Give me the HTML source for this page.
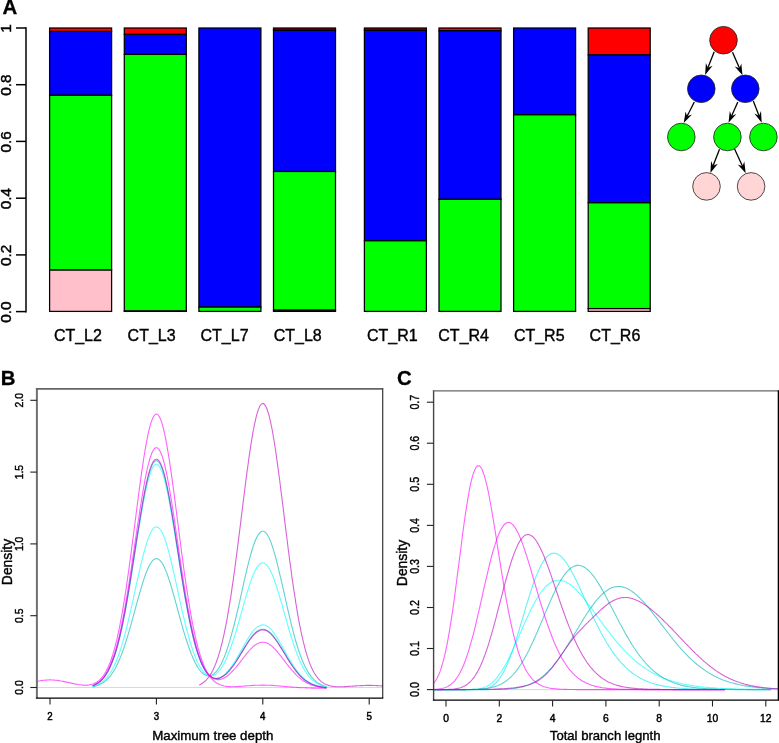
<!DOCTYPE html>
<html lang="en"><head><meta charset="utf-8"><title>Figure</title>
<style>
html,body{margin:0;padding:0;background:#fff;}
body{width:779px;height:743px;overflow:hidden;}
svg{display:block;}
svg text{font-family:"Liberation Sans", Arial, Helvetica, sans-serif;fill:#000;filter:grayscale(1);}
</style></head><body>
<svg width="779" height="743" viewBox="0 0 779 743">
<rect x="0" y="0" width="779" height="743" fill="#ffffff"/>
<!-- Panel A -->
<g id="panelA">
<text x="2.5" y="14.0" font-size="20.4" font-weight="bold" stroke="#000" stroke-width="0.3">A</text>
<g stroke="#000" stroke-width="1.5" fill="none">
<line x1="26.0" y1="27.2" x2="26.0" y2="312.4"/>
<line x1="16" y1="311.6" x2="26.0" y2="311.6"/>
<line x1="16" y1="254.9" x2="26.0" y2="254.9"/>
<line x1="16" y1="198.2" x2="26.0" y2="198.2"/>
<line x1="16" y1="141.4" x2="26.0" y2="141.4"/>
<line x1="16" y1="84.7" x2="26.0" y2="84.7"/>
<line x1="16" y1="28.0" x2="26.0" y2="28.0"/>
</g>
<text transform="translate(11.0 312.1) rotate(-90)" font-size="15.3" text-anchor="middle" stroke="#000" stroke-width="0.45">0.0</text>
<text transform="translate(11.0 255.4) rotate(-90)" font-size="15.3" text-anchor="middle" stroke="#000" stroke-width="0.45">0.2</text>
<text transform="translate(11.0 198.7) rotate(-90)" font-size="15.3" text-anchor="middle" stroke="#000" stroke-width="0.45">0.4</text>
<text transform="translate(11.0 141.9) rotate(-90)" font-size="15.3" text-anchor="middle" stroke="#000" stroke-width="0.45">0.6</text>
<text transform="translate(11.0 85.2) rotate(-90)" font-size="15.3" text-anchor="middle" stroke="#000" stroke-width="0.45">0.8</text>
<text transform="translate(11.0 28.5) rotate(-90)" font-size="15.3" text-anchor="middle" stroke="#000" stroke-width="0.45">1</text>
<g stroke="#000" stroke-width="1.25">
<rect x="49.6" y="28.0" width="62.0" height="3.5" fill="#ff0000"/>
<rect x="49.6" y="31.5" width="62.0" height="63.8" fill="#0000ff"/>
<rect x="49.6" y="95.3" width="62.0" height="174.8" fill="#00ff00"/>
<rect x="49.6" y="270.1" width="62.0" height="41.3" fill="#ffc0cb"/>
<rect x="124.3" y="28.0" width="62.0" height="6.4" fill="#ff0000"/>
<rect x="124.3" y="34.4" width="62.0" height="20.0" fill="#0000ff"/>
<rect x="124.3" y="54.4" width="62.0" height="256.6" fill="#00ff00"/>
<rect x="124.3" y="311.0" width="62.0" height="0.4" fill="#ffc0cb"/>
<rect x="198.9" y="28.0" width="62.0" height="279.1" fill="#0000ff"/>
<rect x="198.9" y="307.1" width="62.0" height="4.3" fill="#00ff00"/>
<rect x="273.5" y="28.0" width="62.0" height="2.3" fill="#a00000"/>
<rect x="273.5" y="30.3" width="62.0" height="141.2" fill="#0000ff"/>
<rect x="273.5" y="171.5" width="62.0" height="138.7" fill="#00ff00"/>
<rect x="273.5" y="310.2" width="62.0" height="1.2" fill="#ffc0cb"/>
<rect x="364.4" y="28.0" width="62.0" height="2.4" fill="#a00000"/>
<rect x="364.4" y="30.4" width="62.0" height="210.4" fill="#0000ff"/>
<rect x="364.4" y="240.8" width="62.0" height="70.6" fill="#00ff00"/>
<rect x="439.0" y="28.0" width="62.0" height="2.8" fill="#ff0000"/>
<rect x="439.0" y="30.8" width="62.0" height="168.6" fill="#0000ff"/>
<rect x="439.0" y="199.3" width="62.0" height="112.1" fill="#00ff00"/>
<rect x="513.6" y="28.0" width="62.0" height="86.8" fill="#0000ff"/>
<rect x="513.6" y="114.8" width="62.0" height="196.6" fill="#00ff00"/>
<rect x="588.2" y="28.0" width="62.0" height="26.9" fill="#ff0000"/>
<rect x="588.2" y="54.9" width="62.0" height="147.9" fill="#0000ff"/>
<rect x="588.2" y="202.8" width="62.0" height="105.8" fill="#00ff00"/>
<rect x="588.2" y="308.6" width="62.0" height="2.8" fill="#ffc0cb"/>
</g>
<text x="53.9" y="341.2" font-size="16" stroke="#000" stroke-width="0.4">CT_L2</text>
<text x="127.6" y="341.2" font-size="16" stroke="#000" stroke-width="0.4">CT_L3</text>
<text x="200.5" y="341.2" font-size="16" stroke="#000" stroke-width="0.4">CT_L7</text>
<text x="273.7" y="341.2" font-size="16" stroke="#000" stroke-width="0.4">CT_L8</text>
<text x="367.0" y="341.2" font-size="16" stroke="#000" stroke-width="0.4">CT_R1</text>
<text x="438.3" y="341.2" font-size="16" stroke="#000" stroke-width="0.4">CT_R4</text>
<text x="513.9" y="341.2" font-size="16" stroke="#000" stroke-width="0.4">CT_R5</text>
<text x="589.6" y="341.2" font-size="16" stroke="#000" stroke-width="0.4">CT_R6</text>
<g id="tree">
<line x1="714.2" y1="51.7" x2="707.9" y2="67.8" stroke="#000" stroke-width="1.3"/>
<polygon points="705.1,74.9 705.9,63.1 707.9,67.8 712.6,65.7" fill="#000"/>
<line x1="732.5" y1="52.2" x2="739.5" y2="68.3" stroke="#000" stroke-width="1.3"/>
<polygon points="742.5,75.3 734.7,66.4 739.5,68.3 741.3,63.5" fill="#000"/>
<line x1="694.3" y1="102.0" x2="687.1" y2="116.3" stroke="#000" stroke-width="1.3"/>
<polygon points="683.7,123.1 685.6,111.4 687.1,116.3 692.0,114.6" fill="#000"/>
<line x1="737.8" y1="102.0" x2="731.6" y2="115.9" stroke="#000" stroke-width="1.3"/>
<polygon points="728.5,122.8 729.8,111.0 731.6,115.9 736.4,114.0" fill="#000"/>
<line x1="753.2" y1="100.7" x2="759.0" y2="115.7" stroke="#000" stroke-width="1.3"/>
<polygon points="761.7,122.8 754.3,113.5 759.0,115.7 761.0,111.0" fill="#000"/>
<line x1="719.5" y1="149.3" x2="713.1" y2="165.8" stroke="#000" stroke-width="1.3"/>
<polygon points="710.4,172.9 711.1,161.1 713.1,165.8 717.8,163.7" fill="#000"/>
<line x1="734.6" y1="149.0" x2="742.5" y2="166.3" stroke="#000" stroke-width="1.3"/>
<polygon points="745.7,173.2 737.7,164.4 742.5,166.3 744.3,161.4" fill="#000"/>
<circle cx="723.5" cy="40.2" r="13.8" fill="#ff0000" stroke="#222" stroke-width="0.8"/>
<circle cx="701.3" cy="88.8" r="13.8" fill="#0000ff" stroke="#222" stroke-width="0.8"/>
<circle cx="745.3" cy="88.8" r="13.8" fill="#0000ff" stroke="#222" stroke-width="0.8"/>
<circle cx="681.3" cy="137.0" r="13.8" fill="#00ff00" stroke="#222" stroke-width="0.8"/>
<circle cx="727.4" cy="137.0" r="13.8" fill="#00ff00" stroke="#222" stroke-width="0.8"/>
<circle cx="763.4" cy="137.0" r="13.8" fill="#00ff00" stroke="#222" stroke-width="0.8"/>
<circle cx="706.5" cy="186.4" r="13.8" fill="#ffd5d5" stroke="#222" stroke-width="0.8"/>
<circle cx="751.1" cy="186.4" r="13.8" fill="#ffd5d5" stroke="#222" stroke-width="0.8"/>
</g>
</g>
<!-- Panel B -->
<g id="panelB">
<text x="0.8" y="385" font-size="20.4" font-weight="bold" stroke="#000" stroke-width="0.3">B</text>
<line x1="36.9" y1="687.5" x2="382.7" y2="687.5" stroke="#c8c8c8" stroke-width="0.7"/>
<g fill="none" stroke-width="1.1" stroke-opacity="0.62" stroke-linejoin="round">
<path d="M92.6,686.9 L93.5,686.7 L94.4,686.4 L95.3,686.2 L96.2,685.9 L97.1,685.6 L98.0,685.3 L98.9,684.9 L99.8,684.5 L100.7,684.1 L101.6,683.6 L102.5,683.1 L103.4,682.5 L104.3,681.8 L105.2,681.1 L106.1,680.3 L107.0,679.5 L107.9,678.6 L108.8,677.6 L109.7,676.6 L110.6,675.5 L111.5,674.2 L112.4,672.9 L113.3,671.5 L114.3,670.1 L115.2,668.5 L116.1,666.8 L117.0,665.0 L117.9,663.1 L118.8,661.1 L119.7,659.1 L120.6,656.9 L121.5,654.6 L122.4,652.2 L123.3,649.6 L124.2,647.0 L125.1,644.3 L126.0,641.6 L126.9,638.7 L127.8,635.7 L128.7,632.7 L129.6,629.6 L130.5,626.4 L131.4,623.2 L132.3,619.9 L133.2,616.6 L134.1,613.3 L135.0,609.9 L135.9,606.6 L136.8,603.3 L137.7,600.0 L138.7,596.7 L139.6,593.5 L140.5,590.3 L141.4,587.3 L142.3,584.3 L143.2,581.4 L144.1,578.6 L145.0,576.0 L145.9,573.5 L146.8,571.2 L147.7,569.0 L148.6,567.0 L149.5,565.3 L150.4,563.7 L151.3,562.3 L152.2,561.1 L153.1,560.1 L154.0,559.4 L154.9,558.9 L155.8,558.7 L156.7,558.6 L157.6,558.8 L158.5,559.3 L159.4,559.9 L160.3,560.8 L161.2,561.9 L162.2,563.3 L163.1,564.8 L164.0,566.5 L164.9,568.5 L165.8,570.6 L166.7,572.9 L167.6,575.3 L168.5,577.9 L169.4,580.6 L170.3,583.5 L171.2,586.4 L172.1,589.5 L173.0,592.6 L173.9,595.8 L174.8,599.0 L175.7,602.3 L176.6,605.7 L177.5,609.0 L178.4,612.3 L179.3,615.6 L180.2,618.9 L181.1,622.2 L182.0,625.4 L182.9,628.6 L183.8,631.7 L184.7,634.7 L185.6,637.7 L186.6,640.5 L187.5,643.3 L188.4,646.0 L189.3,648.5 L190.2,651.0 L191.1,653.4 L192.0,655.6 L192.9,657.8 L193.8,659.8 L194.7,661.7 L195.6,663.4 L196.5,665.1 L197.4,666.6 L198.3,668.0 L199.2,669.3 L200.1,670.5 L201.0,671.6 L201.9,672.5 L202.8,673.3 L203.7,674.0 L204.6,674.6 L205.5,675.1 L206.4,675.4 L207.3,675.6 L208.2,675.8 L209.1,675.7 L210.1,675.6 L211.0,675.4 L211.9,675.0 L212.8,674.5 L213.7,673.9 L214.6,673.2 L215.5,672.3 L216.4,671.3 L217.3,670.2 L218.2,668.9 L219.1,667.6 L220.0,666.0 L220.9,664.4 L221.8,662.6 L222.7,660.7 L223.6,658.6 L224.5,656.4 L225.4,654.1 L226.3,651.6 L227.2,649.0 L228.1,646.2 L229.0,643.3 L229.9,640.3 L230.8,637.2 L231.7,633.9 L232.6,630.5 L233.6,627.0 L234.5,623.5 L235.4,619.8 L236.3,616.0 L237.2,612.2 L238.1,608.3 L239.0,604.3 L239.9,600.3 L240.8,596.3 L241.7,592.3 L242.6,588.2 L243.5,584.2 L244.4,580.2 L245.3,576.3 L246.2,572.4 L247.1,568.6 L248.0,564.9 L248.9,561.3 L249.8,557.9 L250.7,554.6 L251.6,551.5 L252.5,548.5 L253.4,545.7 L254.3,543.2 L255.2,540.8 L256.1,538.7 L257.0,536.9 L258.0,535.3 L258.9,533.9 L259.8,532.8 L260.7,532.0 L261.6,531.5 L262.5,531.2 L263.4,531.3 L264.3,531.6 L265.2,532.2 L266.1,533.1 L267.0,534.2 L267.9,535.7 L268.8,537.3 L269.7,539.3 L270.6,541.4 L271.5,543.8 L272.4,546.5 L273.3,549.3 L274.2,552.3 L275.1,555.5 L276.0,558.8 L276.9,562.3 L277.8,565.9 L278.7,569.7 L279.6,573.5 L280.5,577.4 L281.5,581.3 L282.4,585.3 L283.3,589.4 L284.2,593.4 L285.1,597.4 L286.0,601.5 L286.9,605.5 L287.8,609.4 L288.7,613.3 L289.6,617.2 L290.5,620.9 L291.4,624.6 L292.3,628.2 L293.2,631.7 L294.1,635.1 L295.0,638.3 L295.9,641.5 L296.8,644.5 L297.7,647.4 L298.6,650.2 L299.5,652.9 L300.4,655.4 L301.3,657.8 L302.2,660.1 L303.1,662.3 L304.0,664.3 L304.9,666.2 L305.9,668.0 L306.8,669.7 L307.7,671.3 L308.6,672.7 L309.5,674.1 L310.4,675.4 L311.3,676.6 L312.2,677.7 L313.1,678.7 L314.0,679.6 L314.9,680.4 L315.8,681.2 L316.7,681.9 L317.6,682.6 L318.5,683.2 L319.4,683.7 L320.3,684.2 L321.2,684.7 L322.1,685.1 L323.0,685.4 L323.9,685.8 L324.8,686.1 L325.7,686.3 L326.6,686.6" stroke="#00b4b4"/>
<path d="M92.6,686.5 L93.5,686.3 L94.4,686.0 L95.3,685.7 L96.2,685.4 L97.1,685.0 L98.0,684.6 L98.9,684.1 L99.8,683.6 L100.7,683.1 L101.6,682.4 L102.5,681.8 L103.4,681.0 L104.3,680.2 L105.2,679.4 L106.1,678.4 L107.0,677.4 L107.9,676.2 L108.8,675.0 L109.7,673.7 L110.6,672.3 L111.5,670.8 L112.4,669.2 L113.3,667.5 L114.3,665.6 L115.2,663.6 L116.1,661.5 L117.0,659.3 L117.9,657.0 L118.8,654.5 L119.7,651.9 L120.6,649.2 L121.5,646.3 L122.4,643.3 L123.3,640.2 L124.2,637.0 L125.1,633.6 L126.0,630.1 L126.9,626.5 L127.8,622.9 L128.7,619.1 L129.6,615.2 L130.5,611.3 L131.4,607.3 L132.3,603.2 L133.2,599.1 L134.1,594.9 L135.0,590.8 L135.9,586.6 L136.8,582.5 L137.7,578.4 L138.7,574.3 L139.6,570.3 L140.5,566.4 L141.4,562.6 L142.3,558.8 L143.2,555.3 L144.1,551.8 L145.0,548.6 L145.9,545.5 L146.8,542.6 L147.7,539.9 L148.6,537.4 L149.5,535.2 L150.4,533.2 L151.3,531.5 L152.2,530.0 L153.1,528.8 L154.0,527.9 L154.9,527.3 L155.8,527.0 L156.7,526.9 L157.6,527.2 L158.5,527.7 L159.4,528.5 L160.3,529.7 L161.2,531.0 L162.2,532.7 L163.1,534.6 L164.0,536.8 L164.9,539.2 L165.8,541.8 L166.7,544.6 L167.6,547.7 L168.5,550.9 L169.4,554.3 L170.3,557.8 L171.2,561.5 L172.1,565.3 L173.0,569.2 L173.9,573.2 L174.8,577.2 L175.7,581.3 L176.6,585.5 L177.5,589.6 L178.4,593.8 L179.3,597.9 L180.2,602.0 L181.1,606.1 L182.0,610.1 L182.9,614.0 L183.8,617.9 L184.7,621.7 L185.6,625.4 L186.6,629.0 L187.5,632.4 L188.4,635.8 L189.3,639.0 L190.2,642.1 L191.1,645.1 L192.0,647.9 L192.9,650.6 L193.8,653.2 L194.7,655.6 L195.6,657.8 L196.5,660.0 L197.4,662.0 L198.3,663.8 L199.2,665.5 L200.1,667.1 L201.0,668.5 L201.9,669.8 L202.8,671.0 L203.7,672.0 L204.6,672.9 L205.5,673.7 L206.4,674.4 L207.3,674.9 L208.2,675.3 L209.1,675.6 L210.1,675.8 L211.0,675.8 L211.9,675.8 L212.8,675.6 L213.7,675.3 L214.6,674.8 L215.5,674.3 L216.4,673.7 L217.3,672.9 L218.2,672.0 L219.1,671.0 L220.0,669.9 L220.9,668.6 L221.8,667.3 L222.7,665.8 L223.6,664.2 L224.5,662.5 L225.4,660.7 L226.3,658.7 L227.2,656.7 L228.1,654.5 L229.0,652.2 L229.9,649.8 L230.8,647.4 L231.7,644.8 L232.6,642.1 L233.6,639.3 L234.5,636.5 L235.4,633.6 L236.3,630.6 L237.2,627.5 L238.1,624.4 L239.0,621.2 L239.9,618.0 L240.8,614.8 L241.7,611.6 L242.6,608.4 L243.5,605.2 L244.4,602.0 L245.3,598.9 L246.2,595.8 L247.1,592.8 L248.0,589.8 L248.9,587.0 L249.8,584.2 L250.7,581.6 L251.6,579.1 L252.5,576.7 L253.4,574.5 L254.3,572.5 L255.2,570.6 L256.1,568.9 L257.0,567.4 L258.0,566.1 L258.9,565.1 L259.8,564.2 L260.7,563.6 L261.6,563.1 L262.5,562.9 L263.4,563.0 L264.3,563.2 L265.2,563.7 L266.1,564.4 L267.0,565.3 L267.9,566.5 L268.8,567.8 L269.7,569.4 L270.6,571.1 L271.5,573.0 L272.4,575.1 L273.3,577.3 L274.2,579.7 L275.1,582.3 L276.0,585.0 L276.9,587.7 L277.8,590.6 L278.7,593.6 L279.6,596.6 L280.5,599.8 L281.5,602.9 L282.4,606.1 L283.3,609.3 L284.2,612.6 L285.1,615.8 L286.0,619.0 L286.9,622.2 L287.8,625.3 L288.7,628.5 L289.6,631.5 L290.5,634.5 L291.4,637.5 L292.3,640.3 L293.2,643.1 L294.1,645.8 L295.0,648.4 L295.9,650.9 L296.8,653.4 L297.7,655.7 L298.6,657.9 L299.5,660.0 L300.4,662.0 L301.3,664.0 L302.2,665.8 L303.1,667.5 L304.0,669.1 L304.9,670.7 L305.9,672.1 L306.8,673.5 L307.7,674.7 L308.6,675.9 L309.5,677.0 L310.4,678.0 L311.3,678.9 L312.2,679.8 L313.1,680.6 L314.0,681.4 L314.9,682.0 L315.8,682.7 L316.7,683.2 L317.6,683.7 L318.5,684.2 L319.4,684.7 L320.3,685.0 L321.2,685.4 L322.1,685.7 L323.0,686.0 L323.9,686.3 L324.8,686.5 L325.7,686.7 L326.6,686.9" stroke="#00ffff"/>
<path d="M92.6,685.8 L93.5,685.5 L94.4,685.1 L95.3,684.7 L96.2,684.2 L97.1,683.7 L98.0,683.1 L98.9,682.5 L99.8,681.8 L100.7,681.0 L101.6,680.2 L102.5,679.2 L103.4,678.2 L104.3,677.1 L105.2,675.9 L106.1,674.6 L107.0,673.1 L107.9,671.6 L108.8,669.9 L109.7,668.1 L110.6,666.1 L111.5,664.0 L112.4,661.8 L113.3,659.4 L114.3,656.8 L115.2,654.1 L116.1,651.1 L117.0,648.1 L117.9,644.8 L118.8,641.4 L119.7,637.8 L120.6,634.0 L121.5,630.0 L122.4,625.8 L123.3,621.5 L124.2,617.0 L125.1,612.4 L126.0,607.5 L126.9,602.6 L127.8,597.4 L128.7,592.2 L129.6,586.8 L130.5,581.3 L131.4,575.8 L132.3,570.1 L133.2,564.4 L134.1,558.7 L135.0,552.9 L135.9,547.1 L136.8,541.4 L137.7,535.7 L138.7,530.0 L139.6,524.5 L140.5,519.0 L141.4,513.7 L142.3,508.6 L143.2,503.6 L144.1,498.8 L145.0,494.3 L145.9,490.0 L146.8,486.0 L147.7,482.2 L148.6,478.8 L149.5,475.7 L150.4,473.0 L151.3,470.6 L152.2,468.5 L153.1,466.9 L154.0,465.6 L154.9,464.8 L155.8,464.3 L156.7,464.3 L157.6,464.6 L158.5,465.4 L159.4,466.5 L160.3,468.0 L161.2,470.0 L162.2,472.3 L163.1,474.9 L164.0,477.9 L164.9,481.3 L165.8,484.9 L166.7,488.9 L167.6,493.1 L168.5,497.6 L169.4,502.3 L170.3,507.2 L171.2,512.3 L172.1,517.6 L173.0,523.0 L173.9,528.5 L174.8,534.1 L175.7,539.8 L176.6,545.6 L177.5,551.3 L178.4,557.1 L179.3,562.8 L180.2,568.5 L181.1,574.2 L182.0,579.8 L182.9,585.3 L183.8,590.7 L184.7,595.9 L185.6,601.1 L186.6,606.1 L187.5,610.9 L188.4,615.6 L189.3,620.1 L190.2,624.5 L191.1,628.7 L192.0,632.7 L192.9,636.5 L193.8,640.1 L194.7,643.5 L195.6,646.8 L196.5,649.8 L197.4,652.7 L198.3,655.4 L199.2,657.9 L200.1,660.3 L201.0,662.5 L201.9,664.5 L202.8,666.4 L203.7,668.1 L204.6,669.6 L205.5,671.0 L206.4,672.3 L207.3,673.4 L208.2,674.4 L209.1,675.3 L210.1,676.0 L211.0,676.7 L211.9,677.2 L212.8,677.6 L213.7,677.9 L214.6,678.1 L215.5,678.2 L216.4,678.2 L217.3,678.1 L218.2,677.9 L219.1,677.7 L220.0,677.3 L220.9,676.9 L221.8,676.4 L222.7,675.8 L223.6,675.1 L224.5,674.4 L225.4,673.6 L226.3,672.7 L227.2,671.7 L228.1,670.7 L229.0,669.6 L229.9,668.5 L230.8,667.3 L231.7,666.0 L232.6,664.7 L233.6,663.3 L234.5,661.9 L235.4,660.5 L236.3,659.0 L237.2,657.4 L238.1,655.9 L239.0,654.3 L239.9,652.7 L240.8,651.1 L241.7,649.5 L242.6,647.9 L243.5,646.2 L244.4,644.6 L245.3,643.1 L246.2,641.5 L247.1,640.0 L248.0,638.5 L248.9,637.0 L249.8,635.6 L250.7,634.3 L251.6,633.1 L252.5,631.9 L253.4,630.7 L254.3,629.7 L255.2,628.8 L256.1,627.9 L257.0,627.2 L258.0,626.5 L258.9,626.0 L259.8,625.5 L260.7,625.2 L261.6,625.0 L262.5,624.9 L263.4,624.9 L264.3,625.0 L265.2,625.3 L266.1,625.6 L267.0,626.1 L267.9,626.7 L268.8,627.4 L269.7,628.1 L270.6,629.0 L271.5,630.0 L272.4,631.0 L273.3,632.2 L274.2,633.4 L275.1,634.7 L276.0,636.0 L276.9,637.4 L277.8,638.9 L278.7,640.4 L279.6,641.9 L280.5,643.5 L281.5,645.1 L282.4,646.7 L283.3,648.4 L284.2,650.0 L285.1,651.6 L286.0,653.2 L286.9,654.9 L287.8,656.5 L288.7,658.0 L289.6,659.6 L290.5,661.1 L291.4,662.6 L292.3,664.0 L293.2,665.4 L294.1,666.8 L295.0,668.1 L295.9,669.4 L296.8,670.6 L297.7,671.8 L298.6,672.9 L299.5,674.0 L300.4,675.0 L301.3,676.0 L302.2,676.9 L303.1,677.8 L304.0,678.6 L304.9,679.4 L305.9,680.1 L306.8,680.8 L307.7,681.4 L308.6,682.0 L309.5,682.6 L310.4,683.1 L311.3,683.6 L312.2,684.0 L313.1,684.4 L314.0,684.8 L314.9,685.1 L315.8,685.4 L316.7,685.7 L317.6,686.0 L318.5,686.2 L319.4,686.5 L320.3,686.7 L321.2,686.8 L322.1,687.0 L323.0,687.1 L323.9,687.3 L324.8,687.4 L325.7,687.5 L326.6,687.6" stroke="#00ffff"/>
<path d="M92.6,685.8 L93.5,685.4 L94.4,685.0 L95.3,684.6 L96.2,684.1 L97.1,683.6 L98.0,683.0 L98.9,682.4 L99.8,681.7 L100.7,680.9 L101.6,680.0 L102.5,679.1 L103.4,678.1 L104.3,676.9 L105.2,675.7 L106.1,674.3 L107.0,672.9 L107.9,671.3 L108.8,669.6 L109.7,667.7 L110.6,665.8 L111.5,663.6 L112.4,661.3 L113.3,658.9 L114.3,656.3 L115.2,653.5 L116.1,650.5 L117.0,647.4 L117.9,644.1 L118.8,640.6 L119.7,637.0 L120.6,633.1 L121.5,629.1 L122.4,624.8 L123.3,620.4 L124.2,615.9 L125.1,611.1 L126.0,606.2 L126.9,601.2 L127.8,596.0 L128.7,590.6 L129.6,585.2 L130.5,579.6 L131.4,574.0 L132.3,568.2 L133.2,562.4 L134.1,556.6 L135.0,550.7 L135.9,544.9 L136.8,539.0 L137.7,533.2 L138.7,527.5 L139.6,521.9 L140.5,516.3 L141.4,510.9 L142.3,505.7 L143.2,500.6 L144.1,495.8 L145.0,491.2 L145.9,486.8 L146.8,482.7 L147.7,478.9 L148.6,475.4 L149.5,472.3 L150.4,469.5 L151.3,467.1 L152.2,465.0 L153.1,463.3 L154.0,462.0 L154.9,461.2 L155.8,460.7 L156.7,460.6 L157.6,461.0 L158.5,461.8 L159.4,462.9 L160.3,464.5 L161.2,466.5 L162.2,468.8 L163.1,471.5 L164.0,474.5 L164.9,477.9 L165.8,481.6 L166.7,485.7 L167.6,489.9 L168.5,494.5 L169.4,499.3 L170.3,504.3 L171.2,509.5 L172.1,514.8 L173.0,520.3 L173.9,525.9 L174.8,531.7 L175.7,537.4 L176.6,543.3 L177.5,549.1 L178.4,555.0 L179.3,560.8 L180.2,566.6 L181.1,572.4 L182.0,578.0 L182.9,583.6 L183.8,589.1 L184.7,594.5 L185.6,599.7 L186.6,604.8 L187.5,609.7 L188.4,614.5 L189.3,619.1 L190.2,623.5 L191.1,627.7 L192.0,631.8 L192.9,635.7 L193.8,639.3 L194.7,642.8 L195.6,646.1 L196.5,649.3 L197.4,652.2 L198.3,654.9 L199.2,657.5 L200.1,659.9 L201.0,662.1 L201.9,664.2 L202.8,666.1 L203.7,667.8 L204.6,669.4 L205.5,670.9 L206.4,672.2 L207.3,673.3 L208.2,674.4 L209.1,675.3 L210.1,676.1 L211.0,676.7 L211.9,677.3 L212.8,677.8 L213.7,678.1 L214.6,678.3 L215.5,678.5 L216.4,678.5 L217.3,678.5 L218.2,678.4 L219.1,678.2 L220.0,677.9 L220.9,677.5 L221.8,677.0 L222.7,676.5 L223.6,675.9 L224.5,675.2 L225.4,674.5 L226.3,673.7 L227.2,672.8 L228.1,671.9 L229.0,670.9 L229.9,669.8 L230.8,668.7 L231.7,667.5 L232.6,666.3 L233.6,665.0 L234.5,663.7 L235.4,662.3 L236.3,661.0 L237.2,659.5 L238.1,658.1 L239.0,656.6 L239.9,655.1 L240.8,653.6 L241.7,652.1 L242.6,650.6 L243.5,649.1 L244.4,647.6 L245.3,646.1 L246.2,644.7 L247.1,643.3 L248.0,641.9 L248.9,640.5 L249.8,639.2 L250.7,638.0 L251.6,636.8 L252.5,635.7 L253.4,634.7 L254.3,633.7 L255.2,632.8 L256.1,632.0 L257.0,631.3 L258.0,630.7 L258.9,630.2 L259.8,629.8 L260.7,629.5 L261.6,629.3 L262.5,629.2 L263.4,629.2 L264.3,629.4 L265.2,629.6 L266.1,629.9 L267.0,630.4 L267.9,630.9 L268.8,631.5 L269.7,632.2 L270.6,633.1 L271.5,634.0 L272.4,634.9 L273.3,636.0 L274.2,637.1 L275.1,638.3 L276.0,639.6 L276.9,640.9 L277.8,642.3 L278.7,643.7 L279.6,645.1 L280.5,646.6 L281.5,648.1 L282.4,649.6 L283.3,651.1 L284.2,652.6 L285.1,654.1 L286.0,655.6 L286.9,657.1 L287.8,658.6 L288.7,660.1 L289.6,661.5 L290.5,663.0 L291.4,664.3 L292.3,665.7 L293.2,667.0 L294.1,668.3 L295.0,669.5 L295.9,670.7 L296.8,671.8 L297.7,672.9 L298.6,674.0 L299.5,675.0 L300.4,675.9 L301.3,676.8 L302.2,677.7 L303.1,678.5 L304.0,679.3 L304.9,680.0 L305.9,680.7 L306.8,681.3 L307.7,681.9 L308.6,682.5 L309.5,683.0 L310.4,683.4 L311.3,683.9 L312.2,684.3 L313.1,684.7 L314.0,685.0 L314.9,685.3 L315.8,685.6 L316.7,685.9 L317.6,686.2 L318.5,686.4 L319.4,686.6 L320.3,686.8 L321.2,686.9 L322.1,687.1 L323.0,687.2 L323.9,687.3 L324.8,687.5 L325.7,687.6 L326.6,687.6" stroke="#00b4b4"/>
<path d="M92.6,685.8 L93.5,685.4 L94.4,685.0 L95.3,684.6 L96.2,684.1 L97.1,683.6 L98.0,683.0 L98.9,682.4 L99.8,681.6 L100.7,680.9 L101.6,680.0 L102.5,679.0 L103.4,678.0 L104.3,676.8 L105.2,675.6 L106.1,674.3 L107.0,672.8 L107.9,671.2 L108.8,669.5 L109.7,667.6 L110.6,665.6 L111.5,663.5 L112.4,661.2 L113.3,658.7 L114.3,656.1 L115.2,653.3 L116.1,650.3 L117.0,647.2 L117.9,643.8 L118.8,640.3 L119.7,636.6 L120.6,632.7 L121.5,628.7 L122.4,624.4 L123.3,620.0 L124.2,615.4 L125.1,610.6 L126.0,605.7 L126.9,600.6 L127.8,595.4 L128.7,590.0 L129.6,584.5 L130.5,578.9 L131.4,573.2 L132.3,567.5 L133.2,561.6 L134.1,555.8 L135.0,549.9 L135.9,544.0 L136.8,538.1 L137.7,532.3 L138.7,526.5 L139.6,520.8 L140.5,515.2 L141.4,509.8 L142.3,504.5 L143.2,499.4 L144.1,494.6 L145.0,489.9 L145.9,485.5 L146.8,481.4 L147.7,477.6 L148.6,474.1 L149.5,470.9 L150.4,468.1 L151.3,465.7 L152.2,463.6 L153.1,461.9 L154.0,460.6 L154.9,459.7 L155.8,459.3 L156.7,459.2 L157.6,459.6 L158.5,460.3 L159.4,461.5 L160.3,463.1 L161.2,465.0 L162.2,467.4 L163.1,470.1 L164.0,473.2 L164.9,476.6 L165.8,480.3 L166.7,484.4 L167.6,488.7 L168.5,493.3 L169.4,498.1 L170.3,503.1 L171.2,508.3 L172.1,513.7 L173.0,519.3 L173.9,524.9 L174.8,530.7 L175.7,536.5 L176.6,542.3 L177.5,548.2 L178.4,554.1 L179.3,560.0 L180.2,565.9 L181.1,571.6 L182.0,577.4 L182.9,583.0 L183.8,588.5 L184.7,593.9 L185.6,599.1 L186.6,604.2 L187.5,609.2 L188.4,614.0 L189.3,618.6 L190.2,623.1 L191.1,627.3 L192.0,631.4 L192.9,635.3 L193.8,639.0 L194.7,642.5 L195.6,645.9 L196.5,649.0 L197.4,652.0 L198.3,654.7 L199.2,657.3 L200.1,659.7 L201.0,662.0 L201.9,664.1 L202.8,666.0 L203.7,667.7 L204.6,669.3 L205.5,670.8 L206.4,672.1 L207.3,673.3 L208.2,674.3 L209.1,675.3 L210.1,676.1 L211.0,676.7 L211.9,677.3 L212.8,677.8 L213.7,678.1 L214.6,678.4 L215.5,678.5 L216.4,678.6 L217.3,678.6 L218.2,678.4 L219.1,678.2 L220.0,677.9 L220.9,677.6 L221.8,677.1 L222.7,676.6 L223.6,676.0 L224.5,675.4 L225.4,674.6 L226.3,673.8 L227.2,673.0 L228.1,672.0 L229.0,671.1 L229.9,670.0 L230.8,668.9 L231.7,667.7 L232.6,666.5 L233.6,665.3 L234.5,664.0 L235.4,662.7 L236.3,661.3 L237.2,659.9 L238.1,658.4 L239.0,657.0 L239.9,655.5 L240.8,654.0 L241.7,652.6 L242.6,651.1 L243.5,649.6 L244.4,648.1 L245.3,646.6 L246.2,645.2 L247.1,643.8 L248.0,642.4 L248.9,641.1 L249.8,639.8 L250.7,638.6 L251.6,637.4 L252.5,636.3 L253.4,635.3 L254.3,634.4 L255.2,633.5 L256.1,632.7 L257.0,632.0 L258.0,631.4 L258.9,630.9 L259.8,630.5 L260.7,630.2 L261.6,630.0 L262.5,629.9 L263.4,630.0 L264.3,630.1 L265.2,630.3 L266.1,630.6 L267.0,631.1 L267.9,631.6 L268.8,632.2 L269.7,632.9 L270.6,633.7 L271.5,634.6 L272.4,635.6 L273.3,636.6 L274.2,637.8 L275.1,639.0 L276.0,640.2 L276.9,641.5 L277.8,642.8 L278.7,644.2 L279.6,645.6 L280.5,647.1 L281.5,648.6 L282.4,650.0 L283.3,651.5 L284.2,653.0 L285.1,654.5 L286.0,656.0 L286.9,657.5 L287.8,659.0 L288.7,660.4 L289.6,661.9 L290.5,663.3 L291.4,664.6 L292.3,666.0 L293.2,667.3 L294.1,668.5 L295.0,669.7 L295.9,670.9 L296.8,672.0 L297.7,673.1 L298.6,674.1 L299.5,675.1 L300.4,676.1 L301.3,677.0 L302.2,677.8 L303.1,678.6 L304.0,679.4 L304.9,680.1 L305.9,680.8 L306.8,681.4 L307.7,682.0 L308.6,682.5 L309.5,683.0 L310.4,683.5 L311.3,683.9 L312.2,684.3 L313.1,684.7 L314.0,685.1 L314.9,685.4 L315.8,685.7 L316.7,685.9 L317.6,686.2 L318.5,686.4 L319.4,686.6 L320.3,686.8 L321.2,687.0 L322.1,687.1 L323.0,687.2 L323.9,687.4 L324.8,687.5 L325.7,687.6 L326.6,687.7" stroke="#c000c0"/>
<path d="M92.6,685.6 L93.5,685.3 L94.4,684.9 L95.3,684.4 L96.2,683.9 L97.1,683.4 L98.0,682.7 L98.9,682.1 L99.8,681.3 L100.7,680.5 L101.6,679.6 L102.5,678.6 L103.4,677.5 L104.3,676.3 L105.2,675.0 L106.1,673.5 L107.0,672.0 L107.9,670.3 L108.8,668.5 L109.7,666.6 L110.6,664.5 L111.5,662.2 L112.4,659.8 L113.3,657.2 L114.3,654.5 L115.2,651.5 L116.1,648.4 L117.0,645.1 L117.9,641.6 L118.8,637.9 L119.7,634.0 L120.6,630.0 L121.5,625.7 L122.4,621.2 L123.3,616.6 L124.2,611.7 L125.1,606.7 L126.0,601.6 L126.9,596.2 L127.8,590.7 L128.7,585.1 L129.6,579.3 L130.5,573.4 L131.4,567.5 L132.3,561.4 L133.2,555.3 L134.1,549.1 L135.0,542.9 L135.9,536.7 L136.8,530.5 L137.7,524.4 L138.7,518.3 L139.6,512.4 L140.5,506.5 L141.4,500.8 L142.3,495.3 L143.2,489.9 L144.1,484.8 L145.0,479.9 L145.9,475.3 L146.8,471.0 L147.7,467.0 L148.6,463.3 L149.5,460.0 L150.4,457.0 L151.3,454.5 L152.2,452.3 L153.1,450.5 L154.0,449.2 L154.9,448.2 L155.8,447.7 L156.7,447.7 L157.6,448.1 L158.5,448.9 L159.4,450.1 L160.3,451.7 L161.2,453.8 L162.2,456.3 L163.1,459.1 L164.0,462.4 L164.9,465.9 L165.8,469.9 L166.7,474.1 L167.6,478.6 L168.5,483.5 L169.4,488.5 L170.3,493.8 L171.2,499.3 L172.1,504.9 L173.0,510.8 L173.9,516.7 L174.8,522.7 L175.7,528.8 L176.6,535.0 L177.5,541.2 L178.4,547.4 L179.3,553.6 L180.2,559.7 L181.1,565.8 L182.0,571.8 L182.9,577.7 L183.8,583.5 L184.7,589.1 L185.6,594.7 L186.6,600.0 L187.5,605.3 L188.4,610.3 L189.3,615.2 L190.2,619.8 L191.1,624.3 L192.0,628.6 L192.9,632.7 L193.8,636.6 L194.7,640.3 L195.6,643.8 L196.5,647.2 L197.4,650.3 L198.3,653.2 L199.2,655.9 L200.1,658.5 L201.0,660.9 L201.9,663.1 L202.8,665.1 L203.7,667.0 L204.6,668.8 L205.5,670.3 L206.4,671.8 L207.3,673.0 L208.2,674.2 L209.1,675.2 L210.1,676.1 L211.0,676.9 L211.9,677.6 L212.8,678.2 L213.7,678.7 L214.6,679.0 L215.5,679.3 L216.4,679.5 L217.3,679.6 L218.2,679.6 L219.1,679.6 L220.0,679.4 L220.9,679.2 L221.8,679.0 L222.7,678.6 L223.6,678.2 L224.5,677.7 L225.4,677.2 L226.3,676.6 L227.2,676.0 L228.1,675.3 L229.0,674.5 L229.9,673.7 L230.8,672.8 L231.7,671.9 L232.6,671.0 L233.6,670.0 L234.5,669.0 L235.4,668.0 L236.3,666.9 L237.2,665.8 L238.1,664.7 L239.0,663.5 L239.9,662.4 L240.8,661.2 L241.7,660.0 L242.6,658.9 L243.5,657.7 L244.4,656.5 L245.3,655.4 L246.2,654.2 L247.1,653.1 L248.0,652.1 L248.9,651.0 L249.8,650.0 L250.7,649.0 L251.6,648.1 L252.5,647.2 L253.4,646.4 L254.3,645.7 L255.2,645.0 L256.1,644.4 L257.0,643.8 L258.0,643.4 L258.9,643.0 L259.8,642.7 L260.7,642.4 L261.6,642.3 L262.5,642.2 L263.4,642.2 L264.3,642.3 L265.2,642.5 L266.1,642.7 L267.0,643.1 L267.9,643.5 L268.8,644.0 L269.7,644.6 L270.6,645.2 L271.5,645.9 L272.4,646.7 L273.3,647.5 L274.2,648.4 L275.1,649.3 L276.0,650.3 L276.9,651.3 L277.8,652.4 L278.7,653.5 L279.6,654.6 L280.5,655.7 L281.5,656.9 L282.4,658.1 L283.3,659.3 L284.2,660.4 L285.1,661.6 L286.0,662.8 L286.9,664.0 L287.8,665.1 L288.7,666.3 L289.6,667.4 L290.5,668.5 L291.4,669.6 L292.3,670.7 L293.2,671.7 L294.1,672.7 L295.0,673.6 L295.9,674.6 L296.8,675.4 L297.7,676.3 L298.6,677.1 L299.5,677.9 L300.4,678.6 L301.3,679.4 L302.2,680.0 L303.1,680.7 L304.0,681.3 L304.9,681.8 L305.9,682.3 L306.8,682.8 L307.7,683.3 L308.6,683.7 L309.5,684.1 L310.4,684.5 L311.3,684.9 L312.2,685.2 L313.1,685.5 L314.0,685.7 L314.9,686.0 L315.8,686.2 L316.7,686.4 L317.6,686.6 L318.5,686.8 L319.4,687.0 L320.3,687.1 L321.2,687.2 L322.1,687.4 L323.0,687.5 L323.9,687.6 L324.8,687.6 L325.7,687.7 L326.6,687.8" stroke="#ff00ff"/>
<path d="M199.0,685.1 L199.7,684.8 L200.4,684.4 L201.2,684.0 L201.9,683.5 L202.7,683.1 L203.4,682.5 L204.1,681.9 L204.9,681.3 L205.6,680.6 L206.4,679.9 L207.1,679.0 L207.8,678.2 L208.6,677.2 L209.3,676.2 L210.1,675.1 L210.8,673.9 L211.5,672.7 L212.3,671.3 L213.0,669.9 L213.7,668.3 L214.5,666.7 L215.2,664.9 L216.0,663.0 L216.7,661.0 L217.4,658.9 L218.2,656.7 L218.9,654.3 L219.7,651.8 L220.4,649.2 L221.1,646.4 L221.9,643.5 L222.6,640.4 L223.4,637.2 L224.1,633.8 L224.8,630.3 L225.6,626.6 L226.3,622.8 L227.1,618.8 L227.8,614.7 L228.5,610.4 L229.3,606.0 L230.0,601.4 L230.8,596.7 L231.5,591.8 L232.2,586.8 L233.0,581.7 L233.7,576.4 L234.5,571.0 L235.2,565.6 L235.9,560.0 L236.7,554.3 L237.4,548.5 L238.2,542.7 L238.9,536.8 L239.6,530.9 L240.4,524.9 L241.1,518.9 L241.8,512.9 L242.6,506.9 L243.3,501.0 L244.1,495.0 L244.8,489.1 L245.5,483.3 L246.3,477.6 L247.0,472.0 L247.8,466.5 L248.5,461.1 L249.2,455.9 L250.0,450.8 L250.7,445.9 L251.5,441.2 L252.2,436.8 L252.9,432.5 L253.7,428.5 L254.4,424.8 L255.2,421.3 L255.9,418.1 L256.6,415.2 L257.4,412.7 L258.1,410.4 L258.9,408.4 L259.6,406.8 L260.3,405.5 L261.1,404.5 L261.8,403.9 L262.6,403.6 L263.3,403.6 L264.0,404.0 L264.8,404.8 L265.5,405.9 L266.3,407.3 L267.0,409.0 L267.7,411.1 L268.5,413.5 L269.2,416.2 L269.9,419.2 L270.7,422.5 L271.4,426.0 L272.2,429.8 L272.9,433.9 L273.6,438.2 L274.4,442.8 L275.1,447.5 L275.9,452.5 L276.6,457.6 L277.3,462.9 L278.1,468.3 L278.8,473.8 L279.6,479.5 L280.3,485.3 L281.0,491.1 L281.8,497.0 L282.5,502.9 L283.3,508.9 L284.0,514.9 L284.7,520.9 L285.5,526.9 L286.2,532.9 L287.0,538.8 L287.7,544.7 L288.4,550.5 L289.2,556.2 L289.9,561.8 L290.7,567.4 L291.4,572.8 L292.1,578.2 L292.9,583.4 L293.6,588.5 L294.4,593.4 L295.1,598.2 L295.8,602.9 L296.6,607.4 L297.3,611.8 L298.0,616.1 L298.8,620.1 L299.5,624.1 L300.3,627.8 L301.0,631.5 L301.7,634.9 L302.5,638.2 L303.2,641.4 L304.0,644.4 L304.7,647.3 L305.4,650.0 L306.2,652.6 L306.9,655.1 L307.7,657.4 L308.4,659.6 L309.1,661.7 L309.9,663.6 L310.6,665.4 L311.4,667.2 L312.1,668.8 L312.8,670.3 L313.6,671.7 L314.3,673.0 L315.1,674.2 L315.8,675.4 L316.5,676.4 L317.3,677.4 L318.0,678.3 L318.8,679.1 L319.5,679.9 L320.2,680.6 L321.0,681.3 L321.7,681.9 L322.4,682.4 L323.2,682.9 L323.9,683.4 L324.7,683.8 L325.4,684.2 L326.1,684.5 L326.9,684.8 L327.6,685.1 L328.4,685.4 L329.1,685.6 L329.8,685.8 L330.6,686.0 L331.3,686.1 L332.1,686.2 L332.8,686.4 L333.5,686.5 L334.3,686.5 L335.0,686.6 L335.8,686.7 L336.5,686.7 L337.2,686.7 L338.0,686.8 L338.7,686.8 L339.5,686.8 L340.2,686.8 L340.9,686.8 L341.7,686.8 L342.4,686.7 L343.2,686.7 L343.9,686.7 L344.6,686.6 L345.4,686.6 L346.1,686.6 L346.9,686.5 L347.6,686.5 L348.3,686.4 L349.1,686.4 L349.8,686.3 L350.5,686.3 L351.3,686.2 L352.0,686.2 L352.8,686.1 L353.5,686.1 L354.2,686.0 L355.0,686.0 L355.7,685.9 L356.5,685.9 L357.2,685.8 L357.9,685.8 L358.7,685.7 L359.4,685.7 L360.2,685.7 L360.9,685.6 L361.6,685.6 L362.4,685.6 L363.1,685.5 L363.9,685.5 L364.6,685.5 L365.3,685.5 L366.1,685.4 L366.8,685.4 L367.6,685.4 L368.3,685.4 L369.0,685.4 L369.8,685.4 L370.5,685.4 L371.3,685.4 L372.0,685.4 L372.7,685.5 L373.5,685.5 L374.2,685.5 L375.0,685.5 L375.7,685.5 L376.4,685.6 L377.2,685.6 L377.9,685.6 L378.6,685.7 L379.4,685.7 L380.1,685.8 L380.9,685.8 L381.6,685.9 L382.3,685.9 L383.1,686.0" stroke="#c000c0"/>
<path d="M36.8,681.4 L37.9,681.2 L39.1,681.0 L40.2,680.8 L41.4,680.6 L42.5,680.4 L43.7,680.3 L44.8,680.2 L46.0,680.1 L47.1,680.0 L48.3,680.0 L49.4,679.9 L50.6,679.9 L51.7,680.0 L52.9,680.0 L54.0,680.1 L55.2,680.2 L56.3,680.3 L57.5,680.4 L58.6,680.6 L59.8,680.8 L60.9,681.0 L62.1,681.2 L63.2,681.4 L64.4,681.6 L65.5,681.9 L66.7,682.1 L67.8,682.4 L69.0,682.6 L70.1,682.9 L71.3,683.1 L72.4,683.4 L73.6,683.6 L74.7,683.9 L75.9,684.1 L77.0,684.3 L78.2,684.5 L79.3,684.7 L80.5,684.8 L81.6,685.0 L82.8,685.1 L83.9,685.1 L85.1,685.2 L86.2,685.1 L87.4,685.1 L88.5,685.0 L89.7,684.8 L90.8,684.6 L92.0,684.3 L93.1,683.9 L94.3,683.5 L95.4,682.9 L96.6,682.3 L97.7,681.5 L98.9,680.6 L100.0,679.6 L101.2,678.4 L102.3,677.0 L103.5,675.5 L104.6,673.8 L105.8,671.8 L106.9,669.7 L108.1,667.3 L109.2,664.6 L110.4,661.7 L111.5,658.5 L112.7,654.9 L113.8,651.1 L115.0,646.9 L116.1,642.4 L117.3,637.6 L118.4,632.4 L119.6,626.8 L120.7,620.9 L121.9,614.6 L123.0,608.0 L124.2,601.0 L125.3,593.8 L126.5,586.1 L127.6,578.2 L128.8,570.1 L129.9,561.7 L131.1,553.1 L132.2,544.3 L133.4,535.4 L134.5,526.5 L135.7,517.5 L136.8,508.5 L138.0,499.6 L139.1,490.9 L140.3,482.4 L141.4,474.1 L142.6,466.1 L143.7,458.5 L144.9,451.4 L146.0,444.7 L147.2,438.6 L148.3,433.0 L149.5,428.1 L150.6,423.9 L151.8,420.4 L152.9,417.7 L154.1,415.7 L155.2,414.5 L156.4,414.1 L157.6,414.5 L158.7,415.7 L159.9,417.7 L161.0,420.4 L162.2,423.9 L163.3,428.1 L164.5,433.0 L165.6,438.6 L166.8,444.7 L167.9,451.4 L169.1,458.5 L170.2,466.1 L171.4,474.1 L172.5,482.4 L173.7,490.9 L174.8,499.6 L176.0,508.5 L177.1,517.5 L178.3,526.5 L179.4,535.4 L180.6,544.3 L181.7,553.1 L182.9,561.7 L184.0,570.1 L185.2,578.3 L186.3,586.2 L187.5,593.8 L188.6,601.1 L189.8,608.0 L190.9,614.7 L192.1,620.9 L193.2,626.9 L194.4,632.4 L195.5,637.6 L196.7,642.5 L197.8,647.0 L199.0,651.2 L200.1,655.0 L201.3,658.5 L202.4,661.8 L203.6,664.7 L204.7,667.4 L205.9,669.8 L207.0,672.0 L208.2,673.9 L209.3,675.7 L210.5,677.3 L211.6,678.7 L212.8,679.9 L213.9,681.0 L215.1,681.9 L216.2,682.7 L217.4,683.4 L218.5,684.1 L219.7,684.6 L220.8,685.0 L222.0,685.4 L223.1,685.7 L224.3,686.0 L225.4,686.2 L226.6,686.4 L227.7,686.5 L228.9,686.6 L230.0,686.6 L231.2,686.7 L232.3,686.7 L233.5,686.7 L234.6,686.7 L235.8,686.6 L236.9,686.6 L238.1,686.5 L239.2,686.4 L240.4,686.4 L241.5,686.3 L242.7,686.2 L243.8,686.1 L245.0,686.0 L246.1,685.9 L247.3,685.8 L248.4,685.8 L249.6,685.7 L250.7,685.6 L251.9,685.5 L253.0,685.4 L254.2,685.4 L255.3,685.3 L256.5,685.3 L257.6,685.2 L258.8,685.2 L259.9,685.2 L261.1,685.1 L262.2,685.1 L263.4,685.1 L264.5,685.1 L265.7,685.2 L266.8,685.2 L268.0,685.2 L269.1,685.3 L270.3,685.3 L271.4,685.4 L272.6,685.4 L273.7,685.5 L274.9,685.6 L276.0,685.7 L277.2,685.8 L278.3,685.9 L279.5,686.0 L280.6,686.1 L281.8,686.2 L282.9,686.3 L284.1,686.4 L285.2,686.5 L286.4,686.6 L287.5,686.7 L288.7,686.8 L289.8,686.9 L291.0,687.0 L292.1,687.1 L293.3,687.2 L294.4,687.2 L295.6,687.3 L296.7,687.4 L297.9,687.5 L299.0,687.6 L300.2,687.6 L301.3,687.7 L302.5,687.7 L303.6,687.8 L304.8,687.8 L305.9,687.9 L307.1,687.9 L308.2,688.0 L309.4,688.0 L310.5,688.0 L311.7,688.1 L312.8,688.1 L314.0,688.1 L315.1,688.1 L316.3,688.2 L317.4,688.2 L318.6,688.2 L319.7,688.2 L320.9,688.2 L322.0,688.2 L323.2,688.2 L324.3,688.3 L325.5,688.3 L326.6,688.3" stroke="#ff00ff"/>
</g>
<path d="M36.9,698.1 L36.9,388.1" fill="none" stroke="#707070" stroke-width="2"/>
<path d="M35.9,388.9 L382.7,388.9" fill="none" stroke="#666" stroke-width="1.6"/>
<path d="M382.7,388.1 L382.7,698.1" fill="none" stroke="#333" stroke-width="1.2"/>
<path d="M35.9,698.1 L383.3,698.1" fill="none" stroke="#000" stroke-width="1.3"/>
<g stroke="#222" stroke-width="1.1">
<line x1="50.0" y1="698.1" x2="50.0" y2="704.4"/>
<line x1="156.4" y1="698.1" x2="156.4" y2="704.4"/>
<line x1="262.8" y1="698.1" x2="262.8" y2="704.4"/>
<line x1="369.2" y1="698.1" x2="369.2" y2="704.4"/>
<line x1="30.3" y1="687.5" x2="36.9" y2="687.5"/>
<line x1="30.3" y1="615.7" x2="36.9" y2="615.7"/>
<line x1="30.3" y1="543.9" x2="36.9" y2="543.9"/>
<line x1="30.3" y1="472.1" x2="36.9" y2="472.1"/>
<line x1="30.3" y1="400.3" x2="36.9" y2="400.3"/>
</g>
<text transform="translate(50.0 720.4) scale(0.9 1)" font-size="10.8" text-anchor="middle" stroke="#000" stroke-width="0.5">2</text>
<text transform="translate(156.4 720.4) scale(0.9 1)" font-size="10.8" text-anchor="middle" stroke="#000" stroke-width="0.5">3</text>
<text transform="translate(262.8 720.4) scale(0.9 1)" font-size="10.8" text-anchor="middle" stroke="#000" stroke-width="0.5">4</text>
<text transform="translate(369.2 720.4) scale(0.9 1)" font-size="10.8" text-anchor="middle" stroke="#000" stroke-width="0.5">5</text>
<text transform="translate(23.3 687.5) rotate(-90) scale(0.88 1)" font-size="11.8" text-anchor="middle" stroke="#000" stroke-width="0.45">0.0</text>
<text transform="translate(23.3 615.7) rotate(-90) scale(0.88 1)" font-size="11.8" text-anchor="middle" stroke="#000" stroke-width="0.45">0.5</text>
<text transform="translate(23.3 543.9) rotate(-90) scale(0.88 1)" font-size="11.8" text-anchor="middle" stroke="#000" stroke-width="0.45">1.0</text>
<text transform="translate(23.3 472.1) rotate(-90) scale(0.88 1)" font-size="11.8" text-anchor="middle" stroke="#000" stroke-width="0.45">1.5</text>
<text transform="translate(23.3 400.3) rotate(-90) scale(0.88 1)" font-size="11.8" text-anchor="middle" stroke="#000" stroke-width="0.45">2.0</text>
<text transform="translate(11.6 562) rotate(-90)" font-size="13.9" text-anchor="middle" stroke="#000" stroke-width="0.4">Density</text>
<text x="212.8" y="739.6" font-size="13.3" text-anchor="middle" stroke="#000" stroke-width="0.4">Maximum tree depth</text>
</g>
<!-- Panel C -->
<g id="panelC">
<text x="397.0" y="385.3" font-size="20.4" font-weight="bold" stroke="#000" stroke-width="0.3">C</text>
<line x1="433.6" y1="689.6" x2="778.4" y2="689.6" stroke="#c8c8c8" stroke-width="0.7"/>
<g fill="none" stroke-width="1.1" stroke-opacity="0.62" stroke-linejoin="round">
<path d="M433.4,689.6 L434.6,689.6 L435.7,689.6 L436.9,689.6 L438.0,689.6 L439.1,689.6 L440.3,689.6 L441.4,689.6 L442.6,689.6 L443.7,689.6 L444.8,689.6 L446.0,689.6 L447.1,689.6 L448.3,689.6 L449.4,689.6 L450.5,689.6 L451.7,689.6 L452.8,689.6 L454.0,689.6 L455.1,689.6 L456.2,689.6 L457.4,689.6 L458.5,689.6 L459.7,689.6 L460.8,689.6 L462.0,689.6 L463.1,689.6 L464.2,689.6 L465.4,689.6 L466.5,689.6 L467.7,689.6 L468.8,689.6 L469.9,689.6 L471.1,689.5 L472.2,689.5 L473.4,689.4 L474.5,689.4 L475.6,689.3 L476.8,689.2 L477.9,689.0 L479.1,688.8 L480.2,688.6 L481.3,688.3 L482.5,688.0 L483.6,687.6 L484.8,687.2 L485.9,686.7 L487.1,686.1 L488.2,685.5 L489.3,684.8 L490.5,684.0 L491.6,683.1 L492.8,682.1 L493.9,681.0 L495.0,679.8 L496.2,678.6 L497.3,677.2 L498.5,675.7 L499.6,674.2 L500.7,672.5 L501.9,670.8 L503.0,668.9 L504.2,667.0 L505.3,665.0 L506.4,662.9 L507.6,660.7 L508.7,658.5 L509.9,656.2 L511.0,653.8 L512.2,651.4 L513.3,648.9 L514.4,646.4 L515.6,643.8 L516.7,641.2 L517.9,638.6 L519.0,636.0 L520.1,633.4 L521.3,630.8 L522.4,628.2 L523.6,625.6 L524.7,623.0 L525.8,620.5 L527.0,618.0 L528.1,615.5 L529.3,613.1 L530.4,610.7 L531.5,608.4 L532.7,606.2 L533.8,604.0 L535.0,601.9 L536.1,599.9 L537.3,598.0 L538.4,596.2 L539.5,594.4 L540.7,592.8 L541.8,591.2 L543.0,589.8 L544.1,588.4 L545.2,587.2 L546.4,586.0 L547.5,585.0 L548.7,584.0 L549.8,583.2 L550.9,582.5 L552.1,581.8 L553.2,581.3 L554.4,580.9 L555.5,580.6 L556.6,580.3 L557.8,580.2 L558.9,580.2 L560.1,580.3 L561.2,580.4 L562.4,580.7 L563.5,581.0 L564.6,581.4 L565.8,582.0 L566.9,582.5 L568.1,583.2 L569.2,583.9 L570.3,584.7 L571.5,585.6 L572.6,586.5 L573.8,587.5 L574.9,588.6 L576.0,589.7 L577.2,590.9 L578.3,592.1 L579.5,593.3 L580.6,594.6 L581.7,595.9 L582.9,597.3 L584.0,598.7 L585.2,600.1 L586.3,601.6 L587.5,603.1 L588.6,604.6 L589.7,606.1 L590.9,607.6 L592.0,609.2 L593.2,610.7 L594.3,612.3 L595.4,613.8 L596.6,615.4 L597.7,617.0 L598.9,618.5 L600.0,620.1 L601.1,621.7 L602.3,623.2 L603.4,624.8 L604.6,626.3 L605.7,627.9 L606.8,629.4 L608.0,630.9 L609.1,632.4 L610.3,633.8 L611.4,635.3 L612.5,636.7 L613.7,638.2 L614.8,639.6 L616.0,640.9 L617.1,642.3 L618.3,643.6 L619.4,644.9 L620.5,646.2 L621.7,647.5 L622.8,648.8 L624.0,650.0 L625.1,651.2 L626.2,652.4 L627.4,653.5 L628.5,654.6 L629.7,655.7 L630.8,656.8 L631.9,657.9 L633.1,658.9 L634.2,659.9 L635.4,660.9 L636.5,661.8 L637.6,662.8 L638.8,663.7 L639.9,664.5 L641.1,665.4 L642.2,666.2 L643.4,667.1 L644.5,667.8 L645.6,668.6 L646.8,669.4 L647.9,670.1 L649.1,670.8 L650.2,671.5 L651.3,672.1 L652.5,672.8 L653.6,673.4 L654.8,674.0 L655.9,674.6 L657.0,675.1 L658.2,675.7 L659.3,676.2 L660.5,676.7 L661.6,677.2 L662.7,677.7 L663.9,678.2 L665.0,678.6 L666.2,679.1 L667.3,679.5 L668.5,679.9 L669.6,680.3 L670.7,680.6 L671.9,681.0 L673.0,681.3 L674.2,681.7 L675.3,682.0 L676.4,682.3 L677.6,682.6 L678.7,682.9 L679.9,683.2 L681.0,683.5 L682.1,683.7 L683.3,684.0 L684.4,684.2 L685.6,684.4 L686.7,684.7 L687.8,684.9 L689.0,685.1 L690.1,685.3 L691.3,685.5 L692.4,685.6 L693.6,685.8 L694.7,686.0 L695.8,686.1 L697.0,686.3 L698.1,686.4 L699.3,686.6 L700.4,686.7 L701.5,686.8 L702.7,687.0 L703.8,687.1 L705.0,687.2 L706.1,687.3 L707.2,687.4 L708.4,687.5 L709.5,687.6 L710.7,687.7 L711.8,687.8 L712.9,687.9 L714.1,687.9 L715.2,688.0 L716.4,688.1 L717.5,688.2 L718.6,688.2 L719.8,688.3 L720.9,688.4 L722.1,688.4 L723.2,688.5 L724.4,688.5 L725.5,688.6 L726.6,688.6 L727.8,688.7 L728.9,688.7 L730.1,688.8 L731.2,688.8 L732.3,688.8 L733.5,688.9 L734.6,688.9 L735.8,688.9 L736.9,689.0 L738.0,689.0 L739.2,689.0 L740.3,689.1 L741.5,689.1 L742.6,689.1 L743.7,689.1 L744.9,689.2 L746.0,689.2 L747.2,689.2 L748.3,689.2 L749.5,689.2 L750.6,689.3 L751.7,689.3 L752.9,689.3 L754.0,689.3 L755.2,689.3 L756.3,689.3 L757.4,689.4 L758.6,689.4 L759.7,689.4 L760.9,689.4 L762.0,689.4 L763.1,689.4 L764.3,689.4 L765.4,689.4 L766.6,689.4 L767.7,689.4 L768.8,689.5 L770.0,689.5 L771.1,689.5" stroke="#00ffff"/>
<path d="M433.4,689.6 L434.6,689.6 L435.7,689.6 L436.9,689.6 L438.0,689.6 L439.1,689.6 L440.3,689.6 L441.4,689.6 L442.6,689.6 L443.7,689.6 L444.8,689.6 L446.0,689.6 L447.1,689.6 L448.3,689.6 L449.4,689.6 L450.5,689.6 L451.7,689.6 L452.8,689.6 L454.0,689.6 L455.1,689.6 L456.2,689.6 L457.4,689.6 L458.5,689.6 L459.7,689.6 L460.8,689.6 L462.0,689.6 L463.1,689.6 L464.2,689.6 L465.4,689.6 L466.5,689.6 L467.7,689.6 L468.8,689.6 L469.9,689.6 L471.1,689.6 L472.2,689.6 L473.4,689.6 L474.5,689.6 L475.6,689.5 L476.8,689.5 L477.9,689.5 L479.1,689.4 L480.2,689.4 L481.3,689.3 L482.5,689.1 L483.6,689.0 L484.8,688.8 L485.9,688.5 L487.1,688.2 L488.2,687.8 L489.3,687.4 L490.5,686.8 L491.6,686.2 L492.8,685.5 L493.9,684.6 L495.0,683.7 L496.2,682.6 L497.3,681.3 L498.5,680.0 L499.6,678.5 L500.7,676.8 L501.9,675.0 L503.0,673.0 L504.2,670.9 L505.3,668.6 L506.4,666.1 L507.6,663.5 L508.7,660.8 L509.9,657.8 L511.0,654.8 L512.2,651.6 L513.3,648.3 L514.4,644.9 L515.6,641.4 L516.7,637.8 L517.9,634.1 L519.0,630.3 L520.1,626.5 L521.3,622.7 L522.4,618.9 L523.6,615.0 L524.7,611.2 L525.8,607.3 L527.0,603.6 L528.1,599.8 L529.3,596.2 L530.4,592.6 L531.5,589.1 L532.7,585.8 L533.8,582.5 L535.0,579.4 L536.1,576.4 L537.3,573.6 L538.4,570.9 L539.5,568.5 L540.7,566.1 L541.8,564.0 L543.0,562.1 L544.1,560.3 L545.2,558.7 L546.4,557.4 L547.5,556.2 L548.7,555.2 L549.8,554.4 L550.9,553.8 L552.1,553.4 L553.2,553.2 L554.4,553.2 L555.5,553.4 L556.6,553.7 L557.8,554.2 L558.9,554.9 L560.1,555.7 L561.2,556.7 L562.4,557.8 L563.5,559.1 L564.6,560.5 L565.8,562.0 L566.9,563.7 L568.1,565.4 L569.2,567.3 L570.3,569.2 L571.5,571.3 L572.6,573.4 L573.8,575.6 L574.9,577.8 L576.0,580.1 L577.2,582.5 L578.3,584.8 L579.5,587.3 L580.6,589.7 L581.7,592.2 L582.9,594.7 L584.0,597.2 L585.2,599.7 L586.3,602.2 L587.5,604.7 L588.6,607.2 L589.7,609.7 L590.9,612.1 L592.0,614.6 L593.2,617.0 L594.3,619.4 L595.4,621.7 L596.6,624.0 L597.7,626.3 L598.9,628.6 L600.0,630.8 L601.1,632.9 L602.3,635.0 L603.4,637.1 L604.6,639.1 L605.7,641.0 L606.8,643.0 L608.0,644.8 L609.1,646.6 L610.3,648.4 L611.4,650.1 L612.5,651.8 L613.7,653.4 L614.8,654.9 L616.0,656.5 L617.1,657.9 L618.3,659.3 L619.4,660.7 L620.5,662.0 L621.7,663.3 L622.8,664.5 L624.0,665.7 L625.1,666.8 L626.2,667.9 L627.4,668.9 L628.5,669.9 L629.7,670.9 L630.8,671.8 L631.9,672.7 L633.1,673.5 L634.2,674.4 L635.4,675.1 L636.5,675.9 L637.6,676.6 L638.8,677.3 L639.9,677.9 L641.1,678.5 L642.2,679.1 L643.4,679.7 L644.5,680.2 L645.6,680.7 L646.8,681.2 L647.9,681.7 L649.1,682.1 L650.2,682.5 L651.3,682.9 L652.5,683.3 L653.6,683.6 L654.8,684.0 L655.9,684.3 L657.0,684.6 L658.2,684.9 L659.3,685.2 L660.5,685.4 L661.6,685.7 L662.7,685.9 L663.9,686.1 L665.0,686.3 L666.2,686.5 L667.3,686.7 L668.5,686.9 L669.6,687.0 L670.7,687.2 L671.9,687.4 L673.0,687.5 L674.2,687.6 L675.3,687.7 L676.4,687.9 L677.6,688.0 L678.7,688.1 L679.9,688.2 L681.0,688.3 L682.1,688.3 L683.3,688.4 L684.4,688.5 L685.6,688.6 L686.7,688.6 L687.8,688.7 L689.0,688.8 L690.1,688.8 L691.3,688.9 L692.4,688.9 L693.6,689.0 L694.7,689.0 L695.8,689.0 L697.0,689.1 L698.1,689.1 L699.3,689.1 L700.4,689.2 L701.5,689.2 L702.7,689.2 L703.8,689.3 L705.0,689.3 L706.1,689.3 L707.2,689.3 L708.4,689.3 L709.5,689.4 L710.7,689.4 L711.8,689.4 L712.9,689.4 L714.1,689.4 L715.2,689.4 L716.4,689.4 L717.5,689.5 L718.6,689.5 L719.8,689.5 L720.9,689.5 L722.1,689.5 L723.2,689.5 L724.4,689.5 L725.5,689.5 L726.6,689.5 L727.8,689.5 L728.9,689.5 L730.1,689.5 L731.2,689.5 L732.3,689.5 L733.5,689.5 L734.6,689.6 L735.8,689.6 L736.9,689.6 L738.0,689.6 L739.2,689.6 L740.3,689.6 L741.5,689.6 L742.6,689.6 L743.7,689.6 L744.9,689.6 L746.0,689.6 L747.2,689.6 L748.3,689.6 L749.5,689.6 L750.6,689.6 L751.7,689.6 L752.9,689.6 L754.0,689.6 L755.2,689.6 L756.3,689.6 L757.4,689.6 L758.6,689.6 L759.7,689.6 L760.9,689.6 L762.0,689.6 L763.1,689.6 L764.3,689.6 L765.4,689.6 L766.6,689.6 L767.7,689.6 L768.8,689.6 L770.0,689.6 L771.1,689.6" stroke="#00e8f0"/>
<path d="M433.4,689.6 L434.6,689.6 L435.7,689.6 L436.9,689.6 L438.0,689.6 L439.1,689.6 L440.3,689.6 L441.4,689.6 L442.6,689.6 L443.7,689.6 L444.8,689.6 L446.0,689.6 L447.1,689.6 L448.3,689.6 L449.4,689.6 L450.5,689.6 L451.7,689.6 L452.8,689.6 L454.0,689.6 L455.1,689.6 L456.2,689.6 L457.4,689.6 L458.5,689.6 L459.7,689.6 L460.8,689.6 L462.0,689.6 L463.1,689.6 L464.2,689.6 L465.4,689.6 L466.5,689.5 L467.7,689.5 L468.8,689.5 L469.9,689.5 L471.1,689.5 L472.2,689.4 L473.4,689.4 L474.5,689.4 L475.6,689.3 L476.8,689.3 L477.9,689.2 L479.1,689.2 L480.2,689.1 L481.3,689.0 L482.5,688.9 L483.6,688.8 L484.8,688.7 L485.9,688.5 L487.1,688.4 L488.2,688.2 L489.3,688.0 L490.5,687.8 L491.6,687.5 L492.8,687.2 L493.9,686.9 L495.0,686.6 L496.2,686.2 L497.3,685.8 L498.5,685.3 L499.6,684.8 L500.7,684.3 L501.9,683.7 L503.0,683.0 L504.2,682.3 L505.3,681.6 L506.4,680.8 L507.6,679.9 L508.7,678.9 L509.9,677.9 L511.0,676.8 L512.2,675.7 L513.3,674.5 L514.4,673.2 L515.6,671.8 L516.7,670.4 L517.9,668.8 L519.0,667.2 L520.1,665.5 L521.3,663.8 L522.4,661.9 L523.6,660.0 L524.7,658.1 L525.8,656.0 L527.0,653.9 L528.1,651.7 L529.3,649.4 L530.4,647.1 L531.5,644.7 L532.7,642.2 L533.8,639.7 L535.0,637.2 L536.1,634.6 L537.3,632.0 L538.4,629.3 L539.5,626.6 L540.7,623.9 L541.8,621.2 L543.0,618.5 L544.1,615.8 L545.2,613.1 L546.4,610.4 L547.5,607.7 L548.7,605.0 L549.8,602.4 L550.9,599.8 L552.1,597.3 L553.2,594.8 L554.4,592.4 L555.5,590.1 L556.6,587.8 L557.8,585.6 L558.9,583.5 L560.1,581.5 L561.2,579.6 L562.4,577.8 L563.5,576.1 L564.6,574.6 L565.8,573.1 L566.9,571.8 L568.1,570.5 L569.2,569.4 L570.3,568.5 L571.5,567.6 L572.6,566.9 L573.8,566.4 L574.9,565.9 L576.0,565.6 L577.2,565.4 L578.3,565.4 L579.5,565.5 L580.6,565.7 L581.7,566.0 L582.9,566.5 L584.0,567.1 L585.2,567.8 L586.3,568.6 L587.5,569.5 L588.6,570.6 L589.7,571.7 L590.9,573.0 L592.0,574.3 L593.2,575.7 L594.3,577.2 L595.4,578.8 L596.6,580.5 L597.7,582.3 L598.9,584.1 L600.0,586.0 L601.1,587.9 L602.3,589.9 L603.4,591.9 L604.6,594.0 L605.7,596.1 L606.8,598.2 L608.0,600.4 L609.1,602.5 L610.3,604.7 L611.4,606.9 L612.5,609.1 L613.7,611.4 L614.8,613.6 L616.0,615.8 L617.1,618.0 L618.3,620.2 L619.4,622.4 L620.5,624.5 L621.7,626.6 L622.8,628.7 L624.0,630.8 L625.1,632.9 L626.2,634.9 L627.4,636.9 L628.5,638.8 L629.7,640.7 L630.8,642.6 L631.9,644.5 L633.1,646.2 L634.2,648.0 L635.4,649.7 L636.5,651.4 L637.6,653.0 L638.8,654.5 L639.9,656.1 L641.1,657.5 L642.2,659.0 L643.4,660.4 L644.5,661.7 L645.6,663.0 L646.8,664.3 L647.9,665.5 L649.1,666.6 L650.2,667.8 L651.3,668.8 L652.5,669.9 L653.6,670.9 L654.8,671.8 L655.9,672.8 L657.0,673.6 L658.2,674.5 L659.3,675.3 L660.5,676.1 L661.6,676.8 L662.7,677.5 L663.9,678.2 L665.0,678.8 L666.2,679.4 L667.3,680.0 L668.5,680.6 L669.6,681.1 L670.7,681.6 L671.9,682.1 L673.0,682.5 L674.2,682.9 L675.3,683.3 L676.4,683.7 L677.6,684.1 L678.7,684.4 L679.9,684.8 L681.0,685.1 L682.1,685.4 L683.3,685.6 L684.4,685.9 L685.6,686.1 L686.7,686.3 L687.8,686.6 L689.0,686.8 L690.1,687.0 L691.3,687.1 L692.4,687.3 L693.6,687.5 L694.7,687.6 L695.8,687.7 L697.0,687.9 L698.1,688.0 L699.3,688.1 L700.4,688.2 L701.5,688.3 L702.7,688.4 L703.8,688.5 L705.0,688.6 L706.1,688.6 L707.2,688.7 L708.4,688.8 L709.5,688.8 L710.7,688.9 L711.8,688.9 L712.9,689.0 L714.1,689.0 L715.2,689.1 L716.4,689.1 L717.5,689.2 L718.6,689.2 L719.8,689.2 L720.9,689.3 L722.1,689.3 L723.2,689.3 L724.4,689.3 L725.5,689.4 L726.6,689.4 L727.8,689.4 L728.9,689.4 L730.1,689.4 L731.2,689.4 L732.3,689.4 L733.5,689.5 L734.6,689.5 L735.8,689.5 L736.9,689.5 L738.0,689.5 L739.2,689.5 L740.3,689.5 L741.5,689.5 L742.6,689.5 L743.7,689.5 L744.9,689.5 L746.0,689.5 L747.2,689.6 L748.3,689.6 L749.5,689.6 L750.6,689.6 L751.7,689.6 L752.9,689.6 L754.0,689.6 L755.2,689.6 L756.3,689.6 L757.4,689.6 L758.6,689.6 L759.7,689.6 L760.9,689.6 L762.0,689.6 L763.1,689.6 L764.3,689.6 L765.4,689.6 L766.6,689.6 L767.7,689.6 L768.8,689.6 L770.0,689.6 L771.1,689.6" stroke="#00b4b4"/>
<path d="M433.5,689.6 L434.7,689.6 L435.9,689.6 L437.1,689.6 L438.2,689.6 L439.4,689.6 L440.6,689.6 L441.8,689.6 L443.0,689.6 L444.1,689.6 L445.3,689.6 L446.5,689.6 L447.7,689.6 L448.8,689.6 L450.0,689.6 L451.2,689.6 L452.4,689.6 L453.5,689.6 L454.7,689.6 L455.9,689.6 L457.1,689.6 L458.2,689.6 L459.4,689.6 L460.6,689.6 L461.8,689.6 L463.0,689.6 L464.1,689.6 L465.3,689.6 L466.5,689.6 L467.7,689.6 L468.8,689.6 L470.0,689.6 L471.2,689.6 L472.4,689.6 L473.5,689.6 L474.7,689.6 L475.9,689.6 L477.1,689.6 L478.2,689.6 L479.4,689.6 L480.6,689.6 L481.8,689.6 L483.0,689.6 L484.1,689.6 L485.3,689.6 L486.5,689.6 L487.7,689.6 L488.8,689.6 L490.0,689.5 L491.2,689.5 L492.4,689.5 L493.5,689.5 L494.7,689.5 L495.9,689.5 L497.1,689.4 L498.2,689.4 L499.4,689.4 L500.6,689.3 L501.8,689.3 L503.0,689.2 L504.1,689.2 L505.3,689.1 L506.5,689.1 L507.7,689.0 L508.8,688.9 L510.0,688.8 L511.2,688.7 L512.4,688.5 L513.5,688.4 L514.7,688.2 L515.9,688.1 L517.1,687.9 L518.2,687.7 L519.4,687.4 L520.6,687.2 L521.8,686.9 L523.0,686.6 L524.1,686.3 L525.3,685.9 L526.5,685.5 L527.7,685.1 L528.8,684.7 L530.0,684.2 L531.2,683.6 L532.4,683.1 L533.5,682.5 L534.7,681.9 L535.9,681.2 L537.1,680.5 L538.2,679.7 L539.4,678.9 L540.6,678.0 L541.8,677.1 L543.0,676.2 L544.1,675.2 L545.3,674.1 L546.5,673.0 L547.7,671.9 L548.8,670.7 L550.0,669.4 L551.2,668.1 L552.4,666.8 L553.5,665.4 L554.7,663.9 L555.9,662.4 L557.1,660.9 L558.3,659.3 L559.4,657.7 L560.6,656.0 L561.8,654.3 L563.0,652.5 L564.1,650.8 L565.3,649.0 L566.5,647.1 L567.7,645.2 L568.8,643.3 L570.0,641.4 L571.2,639.5 L572.4,637.6 L573.5,635.6 L574.7,633.6 L575.9,631.7 L577.1,629.7 L578.3,627.7 L579.4,625.8 L580.6,623.8 L581.8,621.9 L583.0,619.9 L584.1,618.0 L585.3,616.2 L586.5,614.3 L587.7,612.5 L588.8,610.7 L590.0,609.0 L591.2,607.3 L592.4,605.7 L593.5,604.1 L594.7,602.6 L595.9,601.1 L597.1,599.7 L598.3,598.3 L599.4,597.0 L600.6,595.8 L601.8,594.6 L603.0,593.5 L604.1,592.5 L605.3,591.6 L606.5,590.7 L607.7,590.0 L608.8,589.3 L610.0,588.6 L611.2,588.1 L612.4,587.6 L613.5,587.2 L614.7,586.9 L615.9,586.7 L617.1,586.6 L618.3,586.5 L619.4,586.5 L620.6,586.6 L621.8,586.8 L623.0,587.1 L624.1,587.4 L625.3,587.8 L626.5,588.3 L627.7,588.8 L628.8,589.4 L630.0,590.1 L631.2,590.9 L632.4,591.7 L633.5,592.5 L634.7,593.5 L635.9,594.4 L637.1,595.5 L638.3,596.6 L639.4,597.7 L640.6,598.9 L641.8,600.1 L643.0,601.4 L644.1,602.7 L645.3,604.0 L646.5,605.3 L647.7,606.7 L648.8,608.2 L650.0,609.6 L651.2,611.1 L652.4,612.6 L653.5,614.1 L654.7,615.6 L655.9,617.1 L657.1,618.6 L658.3,620.2 L659.4,621.7 L660.6,623.3 L661.8,624.8 L663.0,626.4 L664.1,627.9 L665.3,629.5 L666.5,631.0 L667.7,632.5 L668.8,634.0 L670.0,635.5 L671.2,637.0 L672.4,638.5 L673.5,640.0 L674.7,641.4 L675.9,642.8 L677.1,644.2 L678.3,645.6 L679.4,647.0 L680.6,648.3 L681.8,649.6 L683.0,650.9 L684.1,652.2 L685.3,653.4 L686.5,654.7 L687.7,655.9 L688.8,657.0 L690.0,658.2 L691.2,659.3 L692.4,660.4 L693.6,661.4 L694.7,662.5 L695.9,663.5 L697.1,664.5 L698.3,665.4 L699.4,666.3 L700.6,667.3 L701.8,668.1 L703.0,669.0 L704.1,669.8 L705.3,670.6 L706.5,671.4 L707.7,672.1 L708.8,672.9 L710.0,673.6 L711.2,674.3 L712.4,674.9 L713.6,675.5 L714.7,676.2 L715.9,676.7 L717.1,677.3 L718.3,677.9 L719.4,678.4 L720.6,678.9 L721.8,679.4 L723.0,679.9 L724.1,680.3 L725.3,680.8 L726.5,681.2 L727.7,681.6 L728.8,682.0 L730.0,682.3 L731.2,682.7 L732.4,683.0 L733.6,683.3 L734.7,683.6 L735.9,683.9 L737.1,684.2 L738.3,684.5 L739.4,684.8 L740.6,685.0 L741.8,685.2 L743.0,685.5 L744.1,685.7 L745.3,685.9 L746.5,686.1 L747.7,686.3 L748.8,686.5 L750.0,686.6 L751.2,686.8 L752.4,686.9 L753.6,687.1 L754.7,687.2 L755.9,687.3 L757.1,687.5 L758.3,687.6 L759.4,687.7 L760.6,687.8 L761.8,687.9 L763.0,688.0 L764.1,688.1 L765.3,688.2 L766.5,688.3 L767.7,688.3 L768.8,688.4 L770.0,688.5 L771.2,688.6 L772.4,688.6 L773.6,688.7 L774.7,688.7 L775.9,688.8 L777.1,688.8 L778.3,688.9" stroke="#00b4b4"/>
<path d="M434.0,683.0 L434.9,681.7 L435.9,680.2 L436.9,678.5 L437.9,676.6 L438.9,674.4 L439.9,671.9 L440.9,669.1 L441.8,666.0 L442.8,662.7 L443.8,658.9 L444.8,654.9 L445.8,650.4 L446.8,645.7 L447.8,640.6 L448.7,635.1 L449.7,629.3 L450.7,623.2 L451.7,616.8 L452.7,610.1 L453.7,603.1 L454.7,595.9 L455.6,588.6 L456.6,581.0 L457.6,573.4 L458.6,565.6 L459.6,557.9 L460.6,550.2 L461.6,542.5 L462.5,535.0 L463.5,527.6 L464.5,520.5 L465.5,513.6 L466.5,507.1 L467.5,500.9 L468.5,495.1 L469.4,489.7 L470.4,484.9 L471.4,480.5 L472.4,476.7 L473.4,473.4 L474.4,470.7 L475.4,468.5 L476.3,467.0 L477.3,466.0 L478.3,465.7 L479.3,465.9 L480.3,466.7 L481.3,468.1 L482.3,470.0 L483.2,472.5 L484.2,475.4 L485.2,478.8 L486.2,482.6 L487.2,486.8 L488.2,491.4 L489.2,496.3 L490.1,501.5 L491.1,507.0 L492.1,512.7 L493.1,518.6 L494.1,524.6 L495.1,530.7 L496.1,537.0 L497.0,543.3 L498.0,549.5 L499.0,555.8 L500.0,562.1 L501.0,568.3 L502.0,574.4 L503.0,580.4 L503.9,586.3 L504.9,592.0 L505.9,597.6 L506.9,603.0 L507.9,608.2 L508.9,613.3 L509.9,618.1 L510.8,622.8 L511.8,627.2 L512.8,631.5 L513.8,635.6 L514.8,639.4 L515.8,643.0 L516.8,646.5 L517.7,649.8 L518.7,652.8 L519.7,655.7 L520.7,658.4 L521.7,660.9 L522.7,663.3 L523.7,665.5 L524.6,667.5 L525.6,669.4 L526.6,671.2 L527.6,672.8 L528.6,674.3 L529.6,675.7 L530.6,677.0 L531.5,678.2 L532.5,679.3 L533.5,680.3 L534.5,681.2 L535.5,682.0 L536.5,682.7 L537.5,683.4 L538.4,684.1 L539.4,684.6 L540.4,685.1 L541.4,685.6 L542.4,686.0 L543.4,686.4 L544.4,686.8 L545.3,687.1 L546.3,687.3 L547.3,687.6 L548.3,687.8 L549.3,688.0 L550.3,688.2 L551.3,688.4 L552.2,688.5 L553.2,688.6 L554.2,688.7 L555.2,688.8 L556.2,688.9 L557.2,689.0 L558.2,689.1 L559.1,689.1 L560.1,689.2 L561.1,689.2 L562.1,689.3 L563.1,689.3 L564.1,689.4 L565.1,689.4 L566.0,689.4 L567.0,689.4 L568.0,689.5 L569.0,689.5 L570.0,689.5 L571.0,689.5 L572.0,689.5 L572.9,689.5 L573.9,689.5 L574.9,689.5 L575.9,689.6 L576.9,689.6 L577.9,689.6 L578.9,689.6 L579.8,689.6 L580.8,689.6 L581.8,689.6 L582.8,689.6 L583.8,689.6 L584.8,689.6 L585.8,689.6 L586.7,689.6 L587.7,689.6 L588.7,689.6 L589.7,689.6 L590.7,689.6 L591.7,689.6 L592.7,689.6 L593.6,689.6 L594.6,689.6 L595.6,689.6 L596.6,689.6 L597.6,689.6 L598.6,689.6 L599.6,689.6 L600.6,689.6 L601.5,689.6 L602.5,689.6 L603.5,689.6 L604.5,689.6 L605.5,689.6 L606.5,689.6 L607.5,689.6 L608.4,689.6 L609.4,689.6 L610.4,689.6 L611.4,689.6 L612.4,689.6 L613.4,689.6 L614.4,689.6 L615.3,689.6 L616.3,689.6 L617.3,689.6 L618.3,689.6 L619.3,689.6 L620.3,689.6 L621.3,689.6 L622.2,689.6 L623.2,689.6 L624.2,689.6 L625.2,689.6 L626.2,689.6 L627.2,689.6 L628.2,689.6 L629.1,689.6 L630.1,689.6 L631.1,689.6 L632.1,689.6 L633.1,689.6 L634.1,689.6 L635.1,689.6 L636.0,689.6 L637.0,689.6 L638.0,689.6 L639.0,689.6 L640.0,689.6 L641.0,689.6 L642.0,689.6 L642.9,689.6 L643.9,689.6 L644.9,689.6 L645.9,689.6 L646.9,689.6 L647.9,689.6 L648.9,689.6 L649.8,689.6 L650.8,689.6 L651.8,689.6 L652.8,689.6 L653.8,689.6 L654.8,689.6 L655.8,689.6 L656.7,689.6 L657.7,689.6 L658.7,689.6 L659.7,689.6 L660.7,689.6 L661.7,689.6 L662.7,689.6 L663.6,689.6 L664.6,689.6 L665.6,689.6 L666.6,689.6 L667.6,689.6 L668.6,689.6 L669.6,689.6 L670.5,689.6 L671.5,689.6 L672.5,689.6 L673.5,689.6 L674.5,689.6 L675.5,689.6 L676.5,689.6 L677.4,689.6 L678.4,689.6 L679.4,689.6 L680.4,689.6 L681.4,689.6 L682.4,689.6 L683.4,689.6 L684.3,689.6 L685.3,689.6 L686.3,689.6 L687.3,689.6 L688.3,689.6 L689.3,689.6 L690.3,689.6 L691.2,689.6 L692.2,689.6 L693.2,689.6 L694.2,689.6 L695.2,689.6 L696.2,689.6 L697.2,689.6 L698.1,689.6 L699.1,689.6 L700.1,689.6 L701.1,689.6 L702.1,689.6 L703.1,689.6 L704.1,689.6 L705.0,689.6 L706.0,689.6 L707.0,689.6 L708.0,689.6 L709.0,689.6 L710.0,689.6 L711.0,689.6 L711.9,689.6 L712.9,689.6 L713.9,689.6 L714.9,689.6 L715.9,689.6 L716.9,689.6 L717.9,689.6 L718.8,689.6 L719.8,689.6 L720.8,689.6 L721.8,689.6 L722.8,689.6 L723.8,689.6 L724.8,689.6" stroke="#ff00ff"/>
<path d="M434.0,689.4 L434.9,689.3 L435.9,689.3 L436.9,689.2 L437.9,689.1 L438.9,689.0 L439.9,688.8 L440.9,688.7 L441.8,688.5 L442.8,688.2 L443.8,688.0 L444.8,687.7 L445.8,687.3 L446.8,686.9 L447.8,686.4 L448.7,685.8 L449.7,685.2 L450.7,684.5 L451.7,683.7 L452.7,682.8 L453.7,681.9 L454.7,680.8 L455.6,679.6 L456.6,678.3 L457.6,676.8 L458.6,675.2 L459.6,673.5 L460.6,671.6 L461.6,669.6 L462.5,667.5 L463.5,665.2 L464.5,662.7 L465.5,660.1 L466.5,657.3 L467.5,654.4 L468.5,651.3 L469.4,648.1 L470.4,644.7 L471.4,641.2 L472.4,637.6 L473.4,633.8 L474.4,629.9 L475.4,626.0 L476.3,621.9 L477.3,617.7 L478.3,613.4 L479.3,609.1 L480.3,604.8 L481.3,600.4 L482.3,596.0 L483.2,591.6 L484.2,587.2 L485.2,582.9 L486.2,578.5 L487.2,574.3 L488.2,570.1 L489.2,566.0 L490.1,562.1 L491.1,558.2 L492.1,554.5 L493.1,551.0 L494.1,547.6 L495.1,544.4 L496.1,541.3 L497.0,538.5 L498.0,535.9 L499.0,533.5 L500.0,531.3 L501.0,529.4 L502.0,527.7 L503.0,526.2 L503.9,524.9 L504.9,524.0 L505.9,523.2 L506.9,522.7 L507.9,522.5 L508.9,522.4 L509.9,522.7 L510.8,523.1 L511.8,523.8 L512.8,524.7 L513.8,525.8 L514.8,527.2 L515.8,528.7 L516.8,530.4 L517.7,532.3 L518.7,534.3 L519.7,536.6 L520.7,539.0 L521.7,541.5 L522.7,544.1 L523.7,546.9 L524.6,549.8 L525.6,552.7 L526.6,555.8 L527.6,558.9 L528.6,562.1 L529.6,565.4 L530.6,568.7 L531.5,572.1 L532.5,575.4 L533.5,578.8 L534.5,582.2 L535.5,585.6 L536.5,589.0 L537.5,592.4 L538.4,595.7 L539.4,599.0 L540.4,602.3 L541.4,605.5 L542.4,608.7 L543.4,611.9 L544.4,615.0 L545.3,618.0 L546.3,621.0 L547.3,623.9 L548.3,626.7 L549.3,629.5 L550.3,632.2 L551.3,634.8 L552.2,637.3 L553.2,639.8 L554.2,642.2 L555.2,644.5 L556.2,646.7 L557.2,648.9 L558.2,650.9 L559.1,652.9 L560.1,654.8 L561.1,656.7 L562.1,658.5 L563.1,660.1 L564.1,661.8 L565.1,663.3 L566.0,664.8 L567.0,666.2 L568.0,667.6 L569.0,668.9 L570.0,670.1 L571.0,671.2 L572.0,672.3 L572.9,673.4 L573.9,674.4 L574.9,675.3 L575.9,676.2 L576.9,677.1 L577.9,677.9 L578.9,678.6 L579.8,679.3 L580.8,680.0 L581.8,680.7 L582.8,681.3 L583.8,681.8 L584.8,682.3 L585.8,682.8 L586.7,683.3 L587.7,683.7 L588.7,684.1 L589.7,684.5 L590.7,684.9 L591.7,685.2 L592.7,685.5 L593.6,685.8 L594.6,686.1 L595.6,686.4 L596.6,686.6 L597.6,686.8 L598.6,687.0 L599.6,687.2 L600.6,687.4 L601.5,687.6 L602.5,687.7 L603.5,687.9 L604.5,688.0 L605.5,688.1 L606.5,688.3 L607.5,688.4 L608.4,688.5 L609.4,688.5 L610.4,688.6 L611.4,688.7 L612.4,688.8 L613.4,688.8 L614.4,688.9 L615.3,689.0 L616.3,689.0 L617.3,689.1 L618.3,689.1 L619.3,689.2 L620.3,689.2 L621.3,689.2 L622.2,689.3 L623.2,689.3 L624.2,689.3 L625.2,689.3 L626.2,689.4 L627.2,689.4 L628.2,689.4 L629.1,689.4 L630.1,689.4 L631.1,689.4 L632.1,689.5 L633.1,689.5 L634.1,689.5 L635.1,689.5 L636.0,689.5 L637.0,689.5 L638.0,689.5 L639.0,689.5 L640.0,689.5 L641.0,689.5 L642.0,689.5 L642.9,689.6 L643.9,689.6 L644.9,689.6 L645.9,689.6 L646.9,689.6 L647.9,689.6 L648.9,689.6 L649.8,689.6 L650.8,689.6 L651.8,689.6 L652.8,689.6 L653.8,689.6 L654.8,689.6 L655.8,689.6 L656.7,689.6 L657.7,689.6 L658.7,689.6 L659.7,689.6 L660.7,689.6 L661.7,689.6 L662.7,689.6 L663.6,689.6 L664.6,689.6 L665.6,689.6 L666.6,689.6 L667.6,689.6 L668.6,689.6 L669.6,689.6 L670.5,689.6 L671.5,689.6 L672.5,689.6 L673.5,689.6 L674.5,689.6 L675.5,689.6 L676.5,689.6 L677.4,689.6 L678.4,689.6 L679.4,689.6 L680.4,689.6 L681.4,689.6 L682.4,689.6 L683.4,689.6 L684.3,689.6 L685.3,689.6 L686.3,689.6 L687.3,689.6 L688.3,689.6 L689.3,689.6 L690.3,689.6 L691.2,689.6 L692.2,689.6 L693.2,689.6 L694.2,689.6 L695.2,689.6 L696.2,689.6 L697.2,689.6 L698.1,689.6 L699.1,689.6 L700.1,689.6 L701.1,689.6 L702.1,689.6 L703.1,689.6 L704.1,689.6 L705.0,689.6 L706.0,689.6 L707.0,689.6 L708.0,689.6 L709.0,689.6 L710.0,689.6 L711.0,689.6 L711.9,689.6 L712.9,689.6 L713.9,689.6 L714.9,689.6 L715.9,689.6 L716.9,689.6 L717.9,689.6 L718.8,689.6 L719.8,689.6 L720.8,689.6 L721.8,689.6 L722.8,689.6 L723.8,689.6 L724.8,689.6" stroke="#ff00ff"/>
<path d="M434.0,689.6 L434.9,689.6 L435.9,689.6 L436.9,689.6 L437.9,689.6 L438.9,689.6 L439.9,689.6 L440.9,689.6 L441.8,689.6 L442.8,689.6 L443.8,689.5 L444.8,689.5 L445.8,689.5 L446.8,689.5 L447.8,689.5 L448.7,689.4 L449.7,689.4 L450.7,689.3 L451.7,689.2 L452.7,689.2 L453.7,689.1 L454.7,688.9 L455.6,688.8 L456.6,688.6 L457.6,688.4 L458.6,688.2 L459.6,688.0 L460.6,687.7 L461.6,687.3 L462.5,686.9 L463.5,686.5 L464.5,686.0 L465.5,685.5 L466.5,684.8 L467.5,684.1 L468.5,683.4 L469.4,682.5 L470.4,681.6 L471.4,680.5 L472.4,679.4 L473.4,678.1 L474.4,676.8 L475.4,675.3 L476.3,673.8 L477.3,672.1 L478.3,670.3 L479.3,668.3 L480.3,666.3 L481.3,664.1 L482.3,661.8 L483.2,659.4 L484.2,656.8 L485.2,654.1 L486.2,651.3 L487.2,648.4 L488.2,645.3 L489.2,642.2 L490.1,638.9 L491.1,635.6 L492.1,632.1 L493.1,628.6 L494.1,625.0 L495.1,621.4 L496.1,617.7 L497.0,613.9 L498.0,610.1 L499.0,606.3 L500.0,602.5 L501.0,598.6 L502.0,594.8 L503.0,591.0 L503.9,587.3 L504.9,583.6 L505.9,580.0 L506.9,576.4 L507.9,572.9 L508.9,569.5 L509.9,566.2 L510.8,563.1 L511.8,560.0 L512.8,557.1 L513.8,554.4 L514.8,551.8 L515.8,549.4 L516.8,547.1 L517.7,545.0 L518.7,543.1 L519.7,541.4 L520.7,539.8 L521.7,538.5 L522.7,537.3 L523.7,536.4 L524.6,535.6 L525.6,535.1 L526.6,534.7 L527.6,534.5 L528.6,534.6 L529.6,534.8 L530.6,535.2 L531.5,535.7 L532.5,536.5 L533.5,537.4 L534.5,538.5 L535.5,539.8 L536.5,541.2 L537.5,542.8 L538.4,544.5 L539.4,546.3 L540.4,548.3 L541.4,550.4 L542.4,552.6 L543.4,554.9 L544.4,557.2 L545.3,559.7 L546.3,562.3 L547.3,564.9 L548.3,567.6 L549.3,570.3 L550.3,573.1 L551.3,575.9 L552.2,578.8 L553.2,581.7 L554.2,584.6 L555.2,587.5 L556.2,590.4 L557.2,593.3 L558.2,596.2 L559.1,599.1 L560.1,602.0 L561.1,604.9 L562.1,607.7 L563.1,610.5 L564.1,613.3 L565.1,616.0 L566.0,618.7 L567.0,621.3 L568.0,623.9 L569.0,626.4 L570.0,628.9 L571.0,631.3 L572.0,633.7 L572.9,636.0 L573.9,638.3 L574.9,640.5 L575.9,642.6 L576.9,644.7 L577.9,646.7 L578.9,648.6 L579.8,650.5 L580.8,652.3 L581.8,654.1 L582.8,655.8 L583.8,657.4 L584.8,659.0 L585.8,660.5 L586.7,662.0 L587.7,663.4 L588.7,664.7 L589.7,666.0 L590.7,667.3 L591.7,668.4 L592.7,669.6 L593.6,670.7 L594.6,671.7 L595.6,672.7 L596.6,673.6 L597.6,674.5 L598.6,675.4 L599.6,676.2 L600.6,677.0 L601.5,677.7 L602.5,678.4 L603.5,679.1 L604.5,679.7 L605.5,680.3 L606.5,680.9 L607.5,681.4 L608.4,681.9 L609.4,682.4 L610.4,682.8 L611.4,683.3 L612.4,683.7 L613.4,684.0 L614.4,684.4 L615.3,684.7 L616.3,685.1 L617.3,685.4 L618.3,685.6 L619.3,685.9 L620.3,686.1 L621.3,686.4 L622.2,686.6 L623.2,686.8 L624.2,687.0 L625.2,687.2 L626.2,687.3 L627.2,687.5 L628.2,687.6 L629.1,687.8 L630.1,687.9 L631.1,688.0 L632.1,688.1 L633.1,688.3 L634.1,688.4 L635.1,688.4 L636.0,688.5 L637.0,688.6 L638.0,688.7 L639.0,688.7 L640.0,688.8 L641.0,688.9 L642.0,688.9 L642.9,689.0 L643.9,689.0 L644.9,689.1 L645.9,689.1 L646.9,689.1 L647.9,689.2 L648.9,689.2 L649.8,689.2 L650.8,689.3 L651.8,689.3 L652.8,689.3 L653.8,689.3 L654.8,689.4 L655.8,689.4 L656.7,689.4 L657.7,689.4 L658.7,689.4 L659.7,689.4 L660.7,689.5 L661.7,689.5 L662.7,689.5 L663.6,689.5 L664.6,689.5 L665.6,689.5 L666.6,689.5 L667.6,689.5 L668.6,689.5 L669.6,689.5 L670.5,689.5 L671.5,689.5 L672.5,689.5 L673.5,689.6 L674.5,689.6 L675.5,689.6 L676.5,689.6 L677.4,689.6 L678.4,689.6 L679.4,689.6 L680.4,689.6 L681.4,689.6 L682.4,689.6 L683.4,689.6 L684.3,689.6 L685.3,689.6 L686.3,689.6 L687.3,689.6 L688.3,689.6 L689.3,689.6 L690.3,689.6 L691.2,689.6 L692.2,689.6 L693.2,689.6 L694.2,689.6 L695.2,689.6 L696.2,689.6 L697.2,689.6 L698.1,689.6 L699.1,689.6 L700.1,689.6 L701.1,689.6 L702.1,689.6 L703.1,689.6 L704.1,689.6 L705.0,689.6 L706.0,689.6 L707.0,689.6 L708.0,689.6 L709.0,689.6 L710.0,689.6 L711.0,689.6 L711.9,689.6 L712.9,689.6 L713.9,689.6 L714.9,689.6 L715.9,689.6 L716.9,689.6 L717.9,689.6 L718.8,689.6 L719.8,689.6 L720.8,689.6 L721.8,689.6 L722.8,689.6 L723.8,689.6 L724.8,689.6" stroke="#c000c0"/>
<path d="M433.5,689.6 L434.7,689.6 L435.9,689.6 L437.1,689.6 L438.2,689.6 L439.4,689.6 L440.6,689.6 L441.8,689.6 L443.0,689.6 L444.1,689.6 L445.3,689.6 L446.5,689.6 L447.7,689.6 L448.8,689.6 L450.0,689.6 L451.2,689.6 L452.4,689.6 L453.5,689.6 L454.7,689.6 L455.9,689.6 L457.1,689.6 L458.2,689.6 L459.4,689.6 L460.6,689.6 L461.8,689.6 L463.0,689.6 L464.1,689.6 L465.3,689.6 L466.5,689.5 L467.7,689.5 L468.8,689.5 L470.0,689.5 L471.2,689.5 L472.4,689.5 L473.5,689.5 L474.7,689.5 L475.9,689.5 L477.1,689.5 L478.2,689.5 L479.4,689.4 L480.6,689.4 L481.8,689.4 L483.0,689.4 L484.1,689.4 L485.3,689.4 L486.5,689.3 L487.7,689.3 L488.8,689.3 L490.0,689.3 L491.2,689.2 L492.4,689.2 L493.5,689.2 L494.7,689.1 L495.9,689.1 L497.1,689.0 L498.2,689.0 L499.4,688.9 L500.6,688.9 L501.8,688.8 L503.0,688.7 L504.1,688.7 L505.3,688.6 L506.5,688.5 L507.7,688.4 L508.8,688.3 L510.0,688.2 L511.2,688.1 L512.4,688.0 L513.5,687.9 L514.7,687.7 L515.9,687.6 L517.1,687.4 L518.2,687.2 L519.4,687.0 L520.6,686.8 L521.8,686.6 L523.0,686.4 L524.1,686.1 L525.3,685.8 L526.5,685.5 L527.7,685.2 L528.8,684.8 L530.0,684.4 L531.2,684.0 L532.4,683.5 L533.5,683.0 L534.7,682.4 L535.9,681.9 L537.1,681.2 L538.2,680.5 L539.4,679.8 L540.6,678.9 L541.8,678.1 L543.0,677.1 L544.1,676.1 L545.3,675.1 L546.5,673.9 L547.7,672.7 L548.8,671.5 L550.0,670.1 L551.2,668.7 L552.4,667.3 L553.5,665.8 L554.7,664.2 L555.9,662.6 L557.1,661.0 L558.3,659.3 L559.4,657.6 L560.6,655.9 L561.8,654.2 L563.0,652.5 L564.1,650.7 L565.3,649.0 L566.5,647.3 L567.7,645.7 L568.8,644.1 L570.0,642.5 L571.2,640.9 L572.4,639.4 L573.5,637.9 L574.7,636.4 L575.9,635.0 L577.1,633.7 L578.3,632.3 L579.4,631.0 L580.6,629.8 L581.8,628.5 L583.0,627.3 L584.1,626.1 L585.3,624.9 L586.5,623.7 L587.7,622.6 L588.8,621.4 L590.0,620.2 L591.2,619.1 L592.4,617.9 L593.5,616.8 L594.7,615.6 L595.9,614.5 L597.1,613.4 L598.3,612.3 L599.4,611.1 L600.6,610.1 L601.8,609.0 L603.0,608.0 L604.1,607.0 L605.3,606.0 L606.5,605.1 L607.7,604.2 L608.8,603.3 L610.0,602.5 L611.2,601.8 L612.4,601.1 L613.5,600.5 L614.7,599.9 L615.9,599.4 L617.1,598.9 L618.3,598.5 L619.4,598.2 L620.6,597.9 L621.8,597.7 L623.0,597.6 L624.1,597.5 L625.3,597.5 L626.5,597.5 L627.7,597.6 L628.8,597.8 L630.0,598.0 L631.2,598.3 L632.4,598.6 L633.5,599.0 L634.7,599.4 L635.9,599.9 L637.1,600.4 L638.3,600.9 L639.4,601.5 L640.6,602.2 L641.8,602.8 L643.0,603.6 L644.1,604.3 L645.3,605.1 L646.5,605.9 L647.7,606.8 L648.8,607.6 L650.0,608.5 L651.2,609.5 L652.4,610.4 L653.5,611.4 L654.7,612.4 L655.9,613.4 L657.1,614.5 L658.3,615.5 L659.4,616.6 L660.6,617.7 L661.8,618.8 L663.0,620.0 L664.1,621.1 L665.3,622.3 L666.5,623.4 L667.7,624.6 L668.8,625.8 L670.0,627.0 L671.2,628.2 L672.4,629.4 L673.5,630.7 L674.7,631.9 L675.9,633.1 L677.1,634.4 L678.3,635.6 L679.4,636.9 L680.6,638.1 L681.8,639.3 L683.0,640.6 L684.1,641.8 L685.3,643.1 L686.5,644.3 L687.7,645.5 L688.8,646.7 L690.0,647.9 L691.2,649.1 L692.4,650.3 L693.6,651.5 L694.7,652.6 L695.9,653.8 L697.1,654.9 L698.3,656.0 L699.4,657.1 L700.6,658.2 L701.8,659.3 L703.0,660.3 L704.1,661.4 L705.3,662.4 L706.5,663.4 L707.7,664.4 L708.8,665.3 L710.0,666.2 L711.2,667.2 L712.4,668.0 L713.6,668.9 L714.7,669.8 L715.9,670.6 L717.1,671.4 L718.3,672.2 L719.4,672.9 L720.6,673.7 L721.8,674.4 L723.0,675.1 L724.1,675.7 L725.3,676.4 L726.5,677.0 L727.7,677.6 L728.8,678.2 L730.0,678.7 L731.2,679.3 L732.4,679.8 L733.6,680.3 L734.7,680.8 L735.9,681.2 L737.1,681.7 L738.3,682.1 L739.4,682.5 L740.6,682.9 L741.8,683.3 L743.0,683.6 L744.1,684.0 L745.3,684.3 L746.5,684.6 L747.7,684.9 L748.8,685.2 L750.0,685.4 L751.2,685.7 L752.4,685.9 L753.6,686.1 L754.7,686.4 L755.9,686.6 L757.1,686.8 L758.3,686.9 L759.4,687.1 L760.6,687.3 L761.8,687.4 L763.0,687.6 L764.1,687.7 L765.3,687.8 L766.5,688.0 L767.7,688.1 L768.8,688.2 L770.0,688.3 L771.2,688.4 L772.4,688.5 L773.6,688.5 L774.7,688.6 L775.9,688.7 L777.1,688.8 L778.3,688.8" stroke="#c000c0"/>
</g>
<path d="M433.6,700.2 L433.6,390.3" fill="none" stroke="#444" stroke-width="1.4"/>
<path d="M432.9,390.9 L778.4,390.9" fill="none" stroke="#666" stroke-width="1.3"/>
<path d="M778.4,390.3 L778.4,700.2" fill="none" stroke="#000" stroke-width="1.4"/>
<path d="M432.9,700.2 L779.1,700.2" fill="none" stroke="#000" stroke-width="1.3"/>
<g stroke="#222" stroke-width="1.1">
<line x1="446.0" y1="700.2" x2="446.0" y2="706.5"/>
<line x1="499.3" y1="700.2" x2="499.3" y2="706.5"/>
<line x1="552.6" y1="700.2" x2="552.6" y2="706.5"/>
<line x1="605.9" y1="700.2" x2="605.9" y2="706.5"/>
<line x1="659.2" y1="700.2" x2="659.2" y2="706.5"/>
<line x1="712.5" y1="700.2" x2="712.5" y2="706.5"/>
<line x1="765.8" y1="700.2" x2="765.8" y2="706.5"/>
<line x1="426.9" y1="689.6" x2="433.6" y2="689.6"/>
<line x1="426.9" y1="648.5" x2="433.6" y2="648.5"/>
<line x1="426.9" y1="607.5" x2="433.6" y2="607.5"/>
<line x1="426.9" y1="566.4" x2="433.6" y2="566.4"/>
<line x1="426.9" y1="525.4" x2="433.6" y2="525.4"/>
<line x1="426.9" y1="484.3" x2="433.6" y2="484.3"/>
<line x1="426.9" y1="443.2" x2="433.6" y2="443.2"/>
<line x1="426.9" y1="402.2" x2="433.6" y2="402.2"/>
</g>
<text transform="translate(446.0 721.7) scale(0.88 1)" font-size="11.7" text-anchor="middle" stroke="#000" stroke-width="0.5">0</text>
<text transform="translate(499.3 721.7) scale(0.88 1)" font-size="11.7" text-anchor="middle" stroke="#000" stroke-width="0.5">2</text>
<text transform="translate(552.6 721.7) scale(0.88 1)" font-size="11.7" text-anchor="middle" stroke="#000" stroke-width="0.5">4</text>
<text transform="translate(605.9 721.7) scale(0.88 1)" font-size="11.7" text-anchor="middle" stroke="#000" stroke-width="0.5">6</text>
<text transform="translate(659.2 721.7) scale(0.88 1)" font-size="11.7" text-anchor="middle" stroke="#000" stroke-width="0.5">8</text>
<text transform="translate(712.5 721.7) scale(0.88 1)" font-size="11.7" text-anchor="middle" stroke="#000" stroke-width="0.5">10</text>
<text transform="translate(765.8 721.7) scale(0.88 1)" font-size="11.7" text-anchor="middle" stroke="#000" stroke-width="0.5">12</text>
<text transform="translate(419.3 689.6) rotate(-90) scale(0.82 1)" font-size="13" text-anchor="middle" stroke="#000" stroke-width="0.4">0.0</text>
<text transform="translate(419.3 648.5) rotate(-90) scale(0.82 1)" font-size="13" text-anchor="middle" stroke="#000" stroke-width="0.4">0.1</text>
<text transform="translate(419.3 607.5) rotate(-90) scale(0.82 1)" font-size="13" text-anchor="middle" stroke="#000" stroke-width="0.4">0.2</text>
<text transform="translate(419.3 566.4) rotate(-90) scale(0.82 1)" font-size="13" text-anchor="middle" stroke="#000" stroke-width="0.4">0.3</text>
<text transform="translate(419.3 525.4) rotate(-90) scale(0.82 1)" font-size="13" text-anchor="middle" stroke="#000" stroke-width="0.4">0.4</text>
<text transform="translate(419.3 484.3) rotate(-90) scale(0.82 1)" font-size="13" text-anchor="middle" stroke="#000" stroke-width="0.4">0.5</text>
<text transform="translate(419.3 443.2) rotate(-90) scale(0.82 1)" font-size="13" text-anchor="middle" stroke="#000" stroke-width="0.4">0.6</text>
<text transform="translate(419.3 402.2) rotate(-90) scale(0.82 1)" font-size="13" text-anchor="middle" stroke="#000" stroke-width="0.4">0.7</text>
<text transform="translate(407.4 563) rotate(-90)" font-size="13.9" text-anchor="middle" stroke="#000" stroke-width="0.4">Density</text>
<text x="605.2" y="740.2" font-size="13.1" text-anchor="middle" stroke="#000" stroke-width="0.4">Total branch legnth</text>
</g>
</svg>
</body></html>
